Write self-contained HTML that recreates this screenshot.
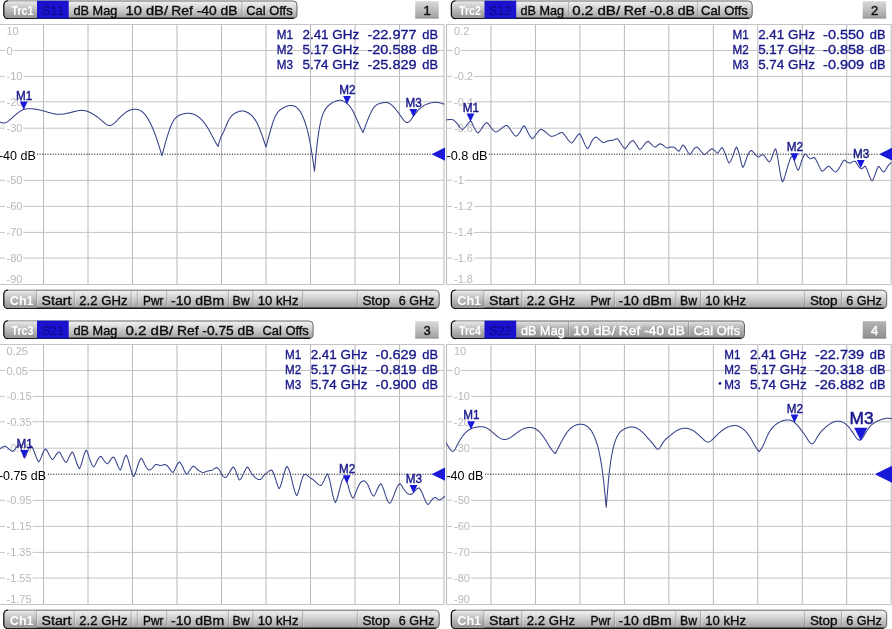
<!DOCTYPE html>
<html><head><meta charset="utf-8"><title>VNA</title>
<style>
html,body{margin:0;padding:0;background:#fff;}
body{width:892px;height:629px;overflow:hidden;font-family:"Liberation Sans", sans-serif;}
svg{display:block;will-change:transform;}
</style></head><body>
<svg width="892" height="629" viewBox="0 0 892 629" font-family='"Liberation Sans", sans-serif'>
<defs>
<linearGradient id="bar" x1="0" y1="0" x2="0" y2="1"><stop offset="0" stop-color="#f4f4f4"/><stop offset="0.45" stop-color="#d0d0d0"/><stop offset="1" stop-color="#9e9e9e"/></linearGradient>
<linearGradient id="barA" x1="0" y1="0" x2="0" y2="1"><stop offset="0" stop-color="#e6e6e6"/><stop offset="0.4" stop-color="#b4b4b4"/><stop offset="1" stop-color="#909090"/></linearGradient>
<linearGradient id="cell" x1="0" y1="0" x2="0" y2="1"><stop offset="0" stop-color="#e8e8e8"/><stop offset="0.5" stop-color="#bababa"/><stop offset="1" stop-color="#929292"/></linearGradient>
<linearGradient id="num" x1="0" y1="0" x2="0" y2="1"><stop offset="0" stop-color="#dadada"/><stop offset="1" stop-color="#a0a0a0"/></linearGradient>
<linearGradient id="numd" x1="0" y1="0" x2="0" y2="1"><stop offset="0" stop-color="#b4b4b4"/><stop offset="1" stop-color="#8e8e8e"/></linearGradient>
<clipPath id="clip1"><rect x="0" y="19" width="445.5" height="270"/></clipPath>
<clipPath id="clip2"><rect x="446" y="19" width="446" height="270"/></clipPath>
<clipPath id="clip3"><rect x="0" y="339" width="445.5" height="270"/></clipPath>
<clipPath id="clip4"><rect x="446" y="339" width="446" height="270"/></clipPath>
</defs>
<rect width="892" height="629" fill="#fff"/>
<g clip-path="url(#clip1)">
<line x1="-1" y1="24.5" x2="-1" y2="284.5" stroke="#b8b8b8" stroke-width="1"/>
<line x1="43.5" y1="24.5" x2="43.5" y2="284.5" stroke="#b8b8b8" stroke-width="1"/>
<line x1="88" y1="24.5" x2="88" y2="284.5" stroke="#b8b8b8" stroke-width="1"/>
<line x1="132.5" y1="24.5" x2="132.5" y2="284.5" stroke="#b8b8b8" stroke-width="1"/>
<line x1="177" y1="24.5" x2="177" y2="284.5" stroke="#b8b8b8" stroke-width="1"/>
<line x1="221.5" y1="24.5" x2="221.5" y2="284.5" stroke="#b8b8b8" stroke-width="1"/>
<line x1="266" y1="24.5" x2="266" y2="284.5" stroke="#b8b8b8" stroke-width="1"/>
<line x1="310.5" y1="24.5" x2="310.5" y2="284.5" stroke="#b8b8b8" stroke-width="1"/>
<line x1="355" y1="24.5" x2="355" y2="284.5" stroke="#b8b8b8" stroke-width="1"/>
<line x1="399.5" y1="24.5" x2="399.5" y2="284.5" stroke="#b8b8b8" stroke-width="1"/>
<line x1="444" y1="24.5" x2="444" y2="284.5" stroke="#b8b8b8" stroke-width="1"/>
<line x1="-1" y1="24.5" x2="444" y2="24.5" stroke="#c4c4c4" stroke-width="1"/>
<line x1="-1" y1="50.5" x2="444" y2="50.5" stroke="#c4c4c4" stroke-width="1"/>
<line x1="-1" y1="76.4" x2="444" y2="76.4" stroke="#c4c4c4" stroke-width="1"/>
<line x1="-1" y1="101.8" x2="444" y2="101.8" stroke="#c4c4c4" stroke-width="1"/>
<line x1="-1" y1="128.2" x2="444" y2="128.2" stroke="#c4c4c4" stroke-width="1"/>
<line x1="-1" y1="180.3" x2="444" y2="180.3" stroke="#c4c4c4" stroke-width="1"/>
<line x1="-1" y1="206.4" x2="444" y2="206.4" stroke="#c4c4c4" stroke-width="1"/>
<line x1="-1" y1="232.4" x2="444" y2="232.4" stroke="#c4c4c4" stroke-width="1"/>
<line x1="-1" y1="258.1" x2="444" y2="258.1" stroke="#c4c4c4" stroke-width="1"/>
<line x1="-1" y1="284.5" x2="444" y2="284.5" stroke="#c4c4c4" stroke-width="1"/>
<text x="6.5" y="34.8" font-size="11" fill="#b8b8b8">10</text>
<rect x="5" y="48.5" width="8.62" height="4" fill="#fff"/>
<text x="6.5" y="54.5" font-size="11" fill="#b8b8b8">0</text>
<rect x="5" y="74.4" width="18.4" height="4" fill="#fff"/>
<text x="6.5" y="80.4" font-size="11" fill="#b8b8b8">-10</text>
<rect x="5" y="99.8" width="18.4" height="4" fill="#fff"/>
<text x="6.5" y="105.8" font-size="11" fill="#b8b8b8">-20</text>
<rect x="5" y="126.2" width="18.4" height="4" fill="#fff"/>
<text x="6.5" y="132.2" font-size="11" fill="#b8b8b8">-30</text>
<rect x="5" y="178.3" width="18.4" height="4" fill="#fff"/>
<text x="6.5" y="184.3" font-size="11" fill="#b8b8b8">-50</text>
<rect x="5" y="204.4" width="18.4" height="4" fill="#fff"/>
<text x="6.5" y="210.4" font-size="11" fill="#b8b8b8">-60</text>
<rect x="5" y="230.4" width="18.4" height="4" fill="#fff"/>
<text x="6.5" y="236.4" font-size="11" fill="#b8b8b8">-70</text>
<rect x="5" y="256.1" width="18.4" height="4" fill="#fff"/>
<text x="6.5" y="262.1" font-size="11" fill="#b8b8b8">-80</text>
<text x="6.5" y="282.6" font-size="11" fill="#b8b8b8">-90</text>
<line x1="37" y1="154.2" x2="431.5" y2="154.2" stroke="#111" stroke-width="1" stroke-dasharray="1.1 1.5"/>
<text x="-1.1" y="159.8" font-size="13.6" fill="#000" textLength="36.9" lengthAdjust="spacingAndGlyphs">-40 dB</text>
<path d="M431.5 154.2 L445 147.6 L445 160.8 Z" fill="#1818d8"/>
<path d="M-1 121.5 L-0.5 121.74 L0 121.98 L0.5 122.2 L1 122.41 L1.5 122.59 L2 122.75 L2.5 122.87 L3 122.96 L3.5 123 L4 122.99 L4.5 122.93 L5 122.82 L5.5 122.66 L6 122.46 L6.5 122.23 L7 121.95 L7.5 121.65 L8 121.31 L8.5 120.95 L9 120.57 L9.5 120.17 L10 119.75 L10.5 119.31 L11 118.87 L11.5 118.41 L12 117.96 L12.5 117.5 L13 117.04 L13.5 116.59 L14 116.14 L14.5 115.7 L15 115.26 L15.5 114.83 L16 114.41 L16.5 113.99 L17 113.59 L17.5 113.19 L18 112.81 L18.5 112.43 L19 112.08 L19.5 111.73 L20 111.4 L20.5 111.09 L21 110.79 L21.5 110.51 L22 110.25 L22.5 110.01 L23 109.79 L23.5 109.59 L24 109.41 L24.5 109.26 L25 109.13 L25.5 109.01 L26 108.92 L26.5 108.84 L27 108.78 L27.5 108.73 L28 108.7 L28.5 108.68 L29 108.67 L29.5 108.67 L30 108.69 L30.5 108.71 L31 108.73 L31.5 108.77 L32 108.81 L32.5 108.85 L33 108.9 L33.5 108.95 L34 109.01 L34.5 109.07 L35 109.14 L35.5 109.21 L36 109.29 L36.5 109.37 L37 109.46 L37.5 109.55 L38 109.64 L38.5 109.74 L39 109.84 L39.5 109.95 L40 110.06 L40.5 110.17 L41 110.29 L41.5 110.41 L42 110.54 L42.5 110.66 L43 110.8 L43.5 110.93 L44 111.07 L44.5 111.21 L45 111.35 L45.5 111.5 L46 111.65 L46.5 111.8 L47 111.94 L47.5 112.09 L48 112.24 L48.5 112.39 L49 112.53 L49.5 112.68 L50 112.82 L50.5 112.95 L51 113.09 L51.5 113.21 L52 113.34 L52.5 113.46 L53 113.57 L53.5 113.68 L54 113.78 L54.5 113.87 L55 113.96 L55.5 114.03 L56 114.1 L56.5 114.16 L57 114.21 L57.5 114.25 L58 114.28 L58.5 114.3 L59 114.3 L59.5 114.3 L60 114.29 L60.5 114.27 L61 114.24 L61.5 114.2 L62 114.16 L62.5 114.1 L63 114.04 L63.5 113.98 L64 113.9 L64.5 113.82 L65 113.74 L65.5 113.64 L66 113.55 L66.5 113.45 L67 113.34 L67.5 113.23 L68 113.12 L68.5 113 L69 112.88 L69.5 112.76 L70 112.64 L70.5 112.51 L71 112.39 L71.5 112.26 L72 112.13 L72.5 112 L73 111.87 L73.5 111.74 L74 111.62 L74.5 111.49 L75 111.37 L75.5 111.25 L76 111.14 L76.5 111.03 L77 110.93 L77.5 110.83 L78 110.74 L78.5 110.66 L79 110.59 L79.5 110.53 L80 110.48 L80.5 110.44 L81 110.41 L81.5 110.39 L82 110.39 L82.5 110.4 L83 110.43 L83.5 110.47 L84 110.53 L84.5 110.61 L85 110.7 L85.5 110.81 L86 110.93 L86.5 111.07 L87 111.22 L87.5 111.38 L88 111.56 L88.5 111.76 L89 111.97 L89.5 112.19 L90 112.42 L90.5 112.66 L91 112.92 L91.5 113.18 L92 113.46 L92.5 113.75 L93 114.05 L93.5 114.36 L94 114.67 L94.5 115 L95 115.34 L95.5 115.68 L96 116.03 L96.5 116.4 L97 116.76 L97.5 117.14 L98 117.52 L98.5 117.91 L99 118.31 L99.5 118.71 L100 119.12 L100.5 119.54 L101 119.96 L101.5 120.38 L102 120.81 L102.5 121.25 L103 121.69 L103.5 122.13 L104 122.56 L104.5 122.98 L105 123.39 L105.5 123.77 L106 124.13 L106.5 124.46 L107 124.75 L107.5 125 L108 125.21 L108.5 125.36 L109 125.46 L109.5 125.5 L110 125.47 L110.5 125.39 L111 125.24 L111.5 125.04 L112 124.79 L112.5 124.5 L113 124.17 L113.5 123.79 L114 123.39 L114.5 122.96 L115 122.5 L115.5 122.03 L116 121.53 L116.5 121.03 L117 120.52 L117.5 120 L118 119.48 L118.5 118.97 L119 118.46 L119.5 117.95 L120 117.45 L120.5 116.95 L121 116.46 L121.5 115.98 L122 115.51 L122.5 115.05 L123 114.6 L123.5 114.16 L124 113.74 L124.5 113.33 L125 112.94 L125.5 112.56 L126 112.2 L126.5 111.87 L127 111.55 L127.5 111.25 L128 110.97 L128.5 110.72 L129 110.49 L129.5 110.28 L130 110.09 L130.5 109.92 L131 109.77 L131.5 109.64 L132 109.53 L132.5 109.44 L133 109.37 L133.5 109.31 L134 109.27 L134.5 109.25 L135 109.25 L135.5 109.26 L136 109.29 L136.5 109.34 L137 109.41 L137.5 109.51 L138 109.63 L138.5 109.77 L139 109.94 L139.5 110.13 L140 110.36 L140.5 110.62 L141 110.91 L141.5 111.24 L142 111.6 L142.5 112 L143 112.44 L143.5 112.91 L144 113.43 L144.5 113.98 L145 114.57 L145.5 115.2 L146 115.86 L146.5 116.57 L147 117.31 L147.5 118.08 L148 118.89 L148.5 119.74 L149 120.63 L149.5 121.55 L150 122.5 L150.5 123.49 L151 124.52 L151.5 125.58 L152 126.67 L152.5 127.81 L153 128.98 L153.5 130.18 L154 131.43 L154.5 132.71 L155 134.03 L155.5 135.39 L156 136.79 L156.5 138.22 L157 139.7 L157.5 141.21 L158 142.74 L158.5 144.31 L159 145.9 L159.5 147.51 L160 149.14 L160.5 150.78 L161 152.43 L161.5 154.09 L162 155.75 L162 155.75 L162.5 153.84 L163 151.94 L163.5 150.05 L164 148.17 L164.5 146.3 L165 144.47 L165.5 142.65 L166 140.88 L166.5 139.13 L167 137.43 L167.5 135.78 L168 134.17 L168.5 132.62 L169 131.12 L169.5 129.68 L170 128.3 L170.5 126.99 L171 125.75 L171.5 124.59 L172 123.5 L172.5 122.5 L173 121.58 L173.5 120.74 L174 119.98 L174.5 119.29 L175 118.66 L175.5 118.1 L176 117.59 L176.5 117.14 L177 116.73 L177.5 116.36 L178 116.03 L178.5 115.74 L179 115.47 L179.5 115.23 L180 115 L180.5 114.79 L181 114.59 L181.5 114.4 L182 114.23 L182.5 114.07 L183 113.93 L183.5 113.8 L184 113.68 L184.5 113.58 L185 113.49 L185.5 113.41 L186 113.35 L186.5 113.3 L187 113.27 L187.5 113.25 L188 113.24 L188.5 113.25 L189 113.28 L189.5 113.32 L190 113.37 L190.5 113.44 L191 113.53 L191.5 113.63 L192 113.75 L192.5 113.89 L193 114.04 L193.5 114.21 L194 114.4 L194.5 114.61 L195 114.83 L195.5 115.08 L196 115.34 L196.5 115.62 L197 115.93 L197.5 116.25 L198 116.59 L198.5 116.96 L199 117.34 L199.5 117.75 L200 118.18 L200.5 118.63 L201 119.1 L201.5 119.6 L202 120.12 L202.5 120.67 L203 121.23 L203.5 121.83 L204 122.45 L204.5 123.09 L205 123.76 L205.5 124.45 L206 125.17 L206.5 125.92 L207 126.7 L207.5 127.5 L208 128.33 L208.5 129.19 L209 130.06 L209.5 130.96 L210 131.87 L210.5 132.8 L211 133.73 L211.5 134.68 L212 135.63 L212.5 136.58 L213 137.53 L213.5 138.47 L214 139.41 L214.5 140.34 L215 141.25 L215.5 142.15 L216 143.04 L216.5 143.91 L217 144.78 L217.5 145.64 L218 146.5 L218 146.5 L218.5 144.7 L219 142.93 L219.5 141.22 L220 139.62 L220.5 138.14 L221 136.83 L221.5 135.72 L222 134.77 L222.5 133.89 L223 133 L223.5 132.02 L224 130.94 L224.5 129.8 L225 128.61 L225.5 127.39 L226 126.15 L226.5 124.93 L227 123.73 L227.5 122.58 L228 121.5 L228.5 120.5 L229 119.59 L229.5 118.75 L230 117.99 L230.5 117.29 L231 116.66 L231.5 116.08 L232 115.56 L232.5 115.09 L233 114.66 L233.5 114.27 L234 113.91 L234.5 113.58 L235 113.28 L235.5 113 L236 112.73 L236.5 112.48 L237 112.25 L237.5 112.03 L238 111.83 L238.5 111.65 L239 111.49 L239.5 111.35 L240 111.23 L240.5 111.13 L241 111.06 L241.5 111.01 L242 110.99 L242.5 110.99 L243 111.02 L243.5 111.08 L244 111.16 L244.5 111.26 L245 111.39 L245.5 111.55 L246 111.73 L246.5 111.93 L247 112.17 L247.5 112.42 L248 112.71 L248.5 113.01 L249 113.35 L249.5 113.71 L250 114.09 L250.5 114.5 L251 114.93 L251.5 115.4 L252 115.89 L252.5 116.41 L253 116.97 L253.5 117.57 L254 118.21 L254.5 118.89 L255 119.61 L255.5 120.38 L256 121.19 L256.5 122.06 L257 122.98 L257.5 123.96 L258 125 L258.5 126.1 L259 127.25 L259.5 128.45 L260 129.71 L260.5 131 L261 132.34 L261.5 133.71 L262 135.12 L262.5 136.55 L263 138 L263.5 139.47 L264 140.96 L264.5 142.46 L265 143.97 L265.5 145.48 L266 147 L266 147 L266.5 145.15 L267 143.29 L267.5 141.44 L268 139.6 L268.5 137.75 L269 135.92 L269.5 134.09 L270 132.27 L270.5 130.47 L271 128.71 L271.5 126.99 L272 125.32 L272.5 123.72 L273 122.19 L273.5 120.74 L274 119.39 L274.5 118.14 L275 117 L275.5 115.96 L276 115.01 L276.5 114.15 L277 113.37 L277.5 112.66 L278 112.02 L278.5 111.45 L279 110.92 L279.5 110.45 L280 110.02 L280.5 109.62 L281 109.26 L281.5 108.91 L282 108.59 L282.5 108.28 L283 107.98 L283.5 107.69 L284 107.42 L284.5 107.17 L285 106.93 L285.5 106.71 L286 106.5 L286.5 106.32 L287 106.15 L287.5 106 L288 105.86 L288.5 105.75 L289 105.66 L289.5 105.58 L290 105.53 L290.5 105.5 L291 105.49 L291.5 105.51 L292 105.55 L292.5 105.61 L293 105.71 L293.5 105.84 L294 106 L294.5 106.2 L295 106.44 L295.5 106.71 L296 107.03 L296.5 107.39 L297 107.79 L297.5 108.25 L298 108.75 L298.5 109.3 L299 109.91 L299.5 110.58 L300 111.3 L300.5 112.08 L301 112.93 L301.5 113.84 L302 114.82 L302.5 115.87 L303 116.99 L303.5 118.18 L304 119.45 L304.5 120.8 L305 122.23 L305.5 123.75 L306 125.35 L306.5 127.05 L307 128.85 L307.5 130.76 L308 132.78 L308.5 134.94 L309 137.23 L309.5 139.66 L310 142.25 L310.5 145 L311 147.91 L311.5 150.97 L312 154.16 L312.5 157.45 L313 160.83 L313.5 164.27 L314 167.75 L314.5 171.25 L314.5 171.25 L315 165.68 L315.5 160.2 L316 154.9 L316.5 149.88 L317 145.22 L317.5 140.97 L318 137.09 L318.5 133.56 L319 130.36 L319.5 127.47 L320 124.86 L320.5 122.5 L321 120.38 L321.5 118.47 L322 116.77 L322.5 115.25 L323 113.89 L323.5 112.69 L324 111.63 L324.5 110.69 L325 109.85 L325.5 109.1 L326 108.42 L326.5 107.8 L327 107.21 L327.5 106.66 L328 106.14 L328.5 105.65 L329 105.19 L329.5 104.75 L330 104.34 L330.5 103.96 L331 103.6 L331.5 103.26 L332 102.95 L332.5 102.65 L333 102.37 L333.5 102.12 L334 101.88 L334.5 101.65 L335 101.44 L335.5 101.25 L336 101.07 L336.5 100.9 L337 100.75 L337.5 100.62 L338 100.51 L338.5 100.42 L339 100.35 L339.5 100.31 L340 100.3 L340.5 100.32 L341 100.37 L341.5 100.45 L342 100.56 L342.5 100.71 L343 100.9 L343.5 101.11 L344 101.36 L344.5 101.64 L345 101.95 L345.5 102.29 L346 102.65 L346.5 103.04 L347 103.46 L347.5 103.91 L348 104.38 L348.5 104.88 L349 105.42 L349.5 105.99 L350 106.61 L350.5 107.26 L351 107.96 L351.5 108.71 L352 109.5 L352.5 110.35 L353 111.25 L353.5 112.21 L354 113.22 L354.5 114.27 L355 115.35 L355.5 116.47 L356 117.6 L356.5 118.75 L357 119.91 L357.5 121.06 L358 122.21 L358.5 123.34 L359 124.45 L359.5 125.54 L360 126.59 L360.5 127.61 L361 128.62 L361.5 129.6 L362 130.58 L362.5 131.54 L363 132.5 L363 132.5 L363.5 131.15 L364 129.8 L364.5 128.45 L365.01 127.11 L365.51 125.77 L366.01 124.44 L366.51 123.13 L367.01 121.82 L367.51 120.52 L368.02 119.25 L368.52 118 L369.02 116.78 L369.52 115.6 L370.02 114.45 L370.52 113.35 L371.02 112.3 L371.53 111.31 L372.03 110.37 L372.53 109.5 L373.03 108.7 L373.53 107.98 L374.03 107.32 L374.54 106.74 L375.04 106.21 L375.54 105.74 L376.04 105.33 L376.54 104.96 L377.04 104.64 L377.54 104.36 L378.05 104.12 L378.55 103.9 L379.05 103.72 L379.55 103.55 L380.05 103.41 L380.55 103.28 L381.06 103.16 L381.56 103.04 L382.06 102.93 L382.56 102.82 L383.06 102.71 L383.56 102.62 L384.06 102.54 L384.57 102.47 L385.07 102.43 L385.57 102.42 L386.07 102.43 L386.57 102.47 L387.07 102.56 L387.58 102.68 L388.08 102.84 L388.58 103.04 L389.08 103.27 L389.58 103.53 L390.08 103.83 L390.58 104.16 L391.09 104.53 L391.59 104.92 L392.09 105.35 L392.59 105.8 L393.09 106.28 L393.59 106.79 L394.1 107.33 L394.6 107.89 L395.1 108.48 L395.6 109.08 L396.1 109.71 L396.6 110.35 L397.1 111.01 L397.61 111.69 L398.11 112.37 L398.61 113.06 L399.11 113.77 L399.61 114.47 L400.11 115.18 L400.62 115.9 L401.12 116.61 L401.62 117.32 L402.12 118.02 L402.62 118.71 L403.12 119.37 L403.62 120.01 L404.13 120.59 L404.63 121.12 L405.13 121.58 L405.63 121.96 L406.13 122.25 L406.63 122.44 L407.14 122.52 L407.64 122.48 L408.14 122.31 L408.64 122.02 L409.14 121.64 L409.64 121.17 L410.15 120.62 L410.65 120.02 L411.15 119.36 L411.65 118.68 L412.15 117.96 L412.65 117.25 L413.15 116.53 L413.66 115.83 L414.16 115.14 L414.66 114.47 L415.16 113.82 L415.66 113.18 L416.16 112.56 L416.67 111.96 L417.17 111.37 L417.67 110.8 L418.17 110.26 L418.67 109.73 L419.17 109.23 L419.67 108.75 L420.18 108.29 L420.68 107.85 L421.18 107.43 L421.68 107.04 L422.18 106.67 L422.68 106.32 L423.19 105.99 L423.69 105.68 L424.19 105.39 L424.69 105.12 L425.19 104.86 L425.69 104.62 L426.19 104.39 L426.7 104.19 L427.2 103.99 L427.7 103.81 L428.2 103.64 L428.7 103.48 L429.2 103.33 L429.71 103.2 L430.21 103.07 L430.71 102.95 L431.21 102.84 L431.71 102.74 L432.21 102.65 L432.71 102.57 L433.22 102.5 L433.72 102.45 L434.22 102.4 L434.72 102.37 L435.22 102.35 L435.72 102.34 L436.23 102.35 L436.73 102.37 L437.23 102.41 L437.73 102.46 L438.23 102.53 L438.73 102.62 L439.23 102.72 L439.74 102.84 L440.24 102.96 L440.74 103.1 L441.24 103.25 L441.74 103.4 L442.24 103.56 L442.75 103.73 L443.25 103.9 L443.75 104.08 L444.25 104.25" fill="none" stroke="#34408a" stroke-width="1.05" stroke-linejoin="round"/>
<path d="M19.85 101.5 L27.65 101.5 L23.75 109.8 Z" fill="#1818d8"/>
<text x="15.95" y="99.5" font-size="13.5" fill="#18188a" textLength="16.3" lengthAdjust="spacingAndGlyphs" stroke="#18188a" stroke-width="0.45">M1</text>
<path d="M343.1 96 L350.9 96 L347 104.3 Z" fill="#1818d8"/>
<text x="339.2" y="94" font-size="13.5" fill="#18188a" textLength="16.3" lengthAdjust="spacingAndGlyphs" stroke="#18188a" stroke-width="0.45">M2</text>
<path d="M409.5 109 L417.3 109 L413.4 117.3 Z" fill="#1818d8"/>
<text x="405.6" y="107" font-size="13.5" fill="#18188a" textLength="16.3" lengthAdjust="spacingAndGlyphs" stroke="#18188a" stroke-width="0.45">M3</text>
<text x="422.3" y="39.1" font-size="13" fill="#18188a" textLength="15.7" lengthAdjust="spacingAndGlyphs" stroke="#18188a" stroke-width="0.35">dB</text>
<text x="367.4" y="39.1" font-size="13" fill="#18188a" textLength="49.2" lengthAdjust="spacingAndGlyphs" stroke="#18188a" stroke-width="0.35">-22.977</text>
<text x="302.45" y="39.1" font-size="13" fill="#18188a" textLength="56.75" lengthAdjust="spacingAndGlyphs" stroke="#18188a" stroke-width="0.35">2.41 GHz</text>
<text x="276.85" y="39.1" font-size="13" fill="#18188a" textLength="16.2" lengthAdjust="spacingAndGlyphs" stroke="#18188a" stroke-width="0.35">M1</text>
<text x="422.3" y="53.8" font-size="13" fill="#18188a" textLength="15.7" lengthAdjust="spacingAndGlyphs" stroke="#18188a" stroke-width="0.35">dB</text>
<text x="367.4" y="53.8" font-size="13" fill="#18188a" textLength="49.2" lengthAdjust="spacingAndGlyphs" stroke="#18188a" stroke-width="0.35">-20.588</text>
<text x="302.45" y="53.8" font-size="13" fill="#18188a" textLength="56.75" lengthAdjust="spacingAndGlyphs" stroke="#18188a" stroke-width="0.35">5.17 GHz</text>
<text x="276.85" y="53.8" font-size="13" fill="#18188a" textLength="16.2" lengthAdjust="spacingAndGlyphs" stroke="#18188a" stroke-width="0.35">M2</text>
<text x="422.3" y="68.6" font-size="13" fill="#18188a" textLength="15.7" lengthAdjust="spacingAndGlyphs" stroke="#18188a" stroke-width="0.35">dB</text>
<text x="367.4" y="68.6" font-size="13" fill="#18188a" textLength="49.2" lengthAdjust="spacingAndGlyphs" stroke="#18188a" stroke-width="0.35">-25.829</text>
<text x="302.45" y="68.6" font-size="13" fill="#18188a" textLength="56.75" lengthAdjust="spacingAndGlyphs" stroke="#18188a" stroke-width="0.35">5.74 GHz</text>
<text x="276.85" y="68.6" font-size="13" fill="#18188a" textLength="16.2" lengthAdjust="spacingAndGlyphs" stroke="#18188a" stroke-width="0.35">M3</text>
</g>
<rect x="4" y="1" width="293" height="17.5" rx="4" ry="4" fill="url(#bar)" stroke="#666" stroke-width="1"/>
<path d="M7 18.3 H294" fill="none" stroke="#1a1a1a" stroke-width="1.4"/>
<path d="M8 1 A4 4 0 0 0 4 5 V14.5 A4 4 0 0 0 8 18.5" fill="none" stroke="#111" stroke-width="1.6"/>
<path d="M8 1.5 H37 V18 H8 A3.5 3.5 0 0 1 4.5 14.5 V5 A3.5 3.5 0 0 1 8 1.5 Z" fill="url(#cell)"/>
<text x="11.5" y="14.6" font-size="12" fill="#fff" textLength="22" lengthAdjust="spacingAndGlyphs" font-weight="bold">Trc1</text>
<rect x="37" y="0.7" width="31.7" height="17.8" fill="#1a12cc"/>
<text x="41.5" y="14.6" font-size="12.5" fill="#0c0a86" textLength="22.5" lengthAdjust="spacingAndGlyphs">S11</text>
<text x="73.5" y="14.6" font-size="13" fill="#0a0a0a" textLength="43.8" lengthAdjust="spacingAndGlyphs" stroke="#0a0a0a" stroke-width="0.35">dB Mag</text>
<text x="125.5" y="14.6" font-size="13" fill="#0a0a0a" textLength="42.5" lengthAdjust="spacingAndGlyphs" stroke="#0a0a0a" stroke-width="0.35">10 dB/</text>
<text x="171.3" y="14.6" font-size="13" fill="#0a0a0a" textLength="66.3" lengthAdjust="spacingAndGlyphs" stroke="#0a0a0a" stroke-width="0.35">Ref -40 dB</text>
<text x="246.2" y="14.6" font-size="13" fill="#0a0a0a" textLength="46.4" lengthAdjust="spacingAndGlyphs" stroke="#0a0a0a" stroke-width="0.35">Cal Offs</text>
<line x1="242" y1="2" x2="242" y2="17.3" stroke="#777" stroke-opacity="0.5" stroke-width="1"/>
<line x1="243" y1="2" x2="243" y2="17.3" stroke="#fff" stroke-opacity="0.3" stroke-width="1"/>
<rect x="415.2" y="1.2" width="23.5" height="17.4" fill="url(#num)"/>
<rect x="415.2" y="17.6" width="23.5" height="1" fill="#000" fill-opacity="0.12"/>
<text x="427.1" y="14.9" font-size="13" fill="#111" text-anchor="middle" stroke="#111" stroke-width="0.4">1</text>
<rect x="4" y="290.2" width="435.2" height="18.2" rx="4" ry="4" fill="url(#bar)" stroke="#666" stroke-width="1"/>
<path d="M7 308.2 H436.2" fill="none" stroke="#1a1a1a" stroke-width="1.4"/>
<path d="M8 290.2 A4 4 0 0 0 4 294.2 V304.4 A4 4 0 0 0 8 308.4" fill="none" stroke="#111" stroke-width="1.6"/>
<path d="M8 290.7 H36.4 V307.9 H8 A3.5 3.5 0 0 1 4.5 304.4 V294.2 A3.5 3.5 0 0 1 8 290.7 Z" fill="url(#cell)"/>
<text x="9.8" y="304.9" font-size="12" fill="#fff" textLength="23.8" lengthAdjust="spacingAndGlyphs" font-weight="bold">Ch1</text>
<text x="41.5" y="304.9" font-size="13" fill="#0a0a0a" textLength="30" lengthAdjust="spacingAndGlyphs" stroke="#0a0a0a" stroke-width="0.35">Start</text>
<text x="79.3" y="304.9" font-size="13" fill="#0a0a0a" textLength="48.2" lengthAdjust="spacingAndGlyphs" stroke="#0a0a0a" stroke-width="0.35">2.2 GHz</text>
<text x="143" y="304.9" font-size="13" fill="#0a0a0a" textLength="20.4" lengthAdjust="spacingAndGlyphs" stroke="#0a0a0a" stroke-width="0.35">Pwr</text>
<text x="171" y="304.9" font-size="13" fill="#0a0a0a" textLength="53.2" lengthAdjust="spacingAndGlyphs" stroke="#0a0a0a" stroke-width="0.35">-10 dBm</text>
<text x="232.5" y="304.9" font-size="13" fill="#0a0a0a" textLength="17" lengthAdjust="spacingAndGlyphs" stroke="#0a0a0a" stroke-width="0.35">Bw</text>
<text x="257.8" y="304.9" font-size="13" fill="#0a0a0a" textLength="40.7" lengthAdjust="spacingAndGlyphs" stroke="#0a0a0a" stroke-width="0.35">10 kHz</text>
<text x="362.4" y="304.9" font-size="13" fill="#0a0a0a" textLength="27.6" lengthAdjust="spacingAndGlyphs" stroke="#0a0a0a" stroke-width="0.35">Stop</text>
<text x="398.8" y="304.9" font-size="13" fill="#0a0a0a" textLength="35.6" lengthAdjust="spacingAndGlyphs" stroke="#0a0a0a" stroke-width="0.35">6 GHz</text>
<line x1="36.4" y1="291.2" x2="36.4" y2="307.2" stroke="#777" stroke-opacity="0.5" stroke-width="1"/>
<line x1="37.4" y1="291.2" x2="37.4" y2="307.2" stroke="#fff" stroke-opacity="0.3" stroke-width="1"/>
<line x1="74.3" y1="291.2" x2="74.3" y2="307.2" stroke="#777" stroke-opacity="0.5" stroke-width="1"/>
<line x1="75.3" y1="291.2" x2="75.3" y2="307.2" stroke="#fff" stroke-opacity="0.3" stroke-width="1"/>
<line x1="131.2" y1="291.2" x2="131.2" y2="307.2" stroke="#777" stroke-opacity="0.5" stroke-width="1"/>
<line x1="132.2" y1="291.2" x2="132.2" y2="307.2" stroke="#fff" stroke-opacity="0.3" stroke-width="1"/>
<line x1="137.3" y1="291.2" x2="137.3" y2="307.2" stroke="#777" stroke-opacity="0.5" stroke-width="1"/>
<line x1="138.3" y1="291.2" x2="138.3" y2="307.2" stroke="#fff" stroke-opacity="0.3" stroke-width="1"/>
<line x1="166.8" y1="291.2" x2="166.8" y2="307.2" stroke="#777" stroke-opacity="0.5" stroke-width="1"/>
<line x1="167.8" y1="291.2" x2="167.8" y2="307.2" stroke="#fff" stroke-opacity="0.3" stroke-width="1"/>
<line x1="228.4" y1="291.2" x2="228.4" y2="307.2" stroke="#777" stroke-opacity="0.5" stroke-width="1"/>
<line x1="229.4" y1="291.2" x2="229.4" y2="307.2" stroke="#fff" stroke-opacity="0.3" stroke-width="1"/>
<line x1="253" y1="291.2" x2="253" y2="307.2" stroke="#777" stroke-opacity="0.5" stroke-width="1"/>
<line x1="254" y1="291.2" x2="254" y2="307.2" stroke="#fff" stroke-opacity="0.3" stroke-width="1"/>
<line x1="302.7" y1="291.2" x2="302.7" y2="307.2" stroke="#777" stroke-opacity="0.5" stroke-width="1"/>
<line x1="303.7" y1="291.2" x2="303.7" y2="307.2" stroke="#fff" stroke-opacity="0.3" stroke-width="1"/>
<line x1="357.3" y1="291.2" x2="357.3" y2="307.2" stroke="#777" stroke-opacity="0.5" stroke-width="1"/>
<line x1="358.3" y1="291.2" x2="358.3" y2="307.2" stroke="#fff" stroke-opacity="0.3" stroke-width="1"/>
<g clip-path="url(#clip2)">
<line x1="446.5" y1="24.5" x2="446.5" y2="284.5" stroke="#b8b8b8" stroke-width="1"/>
<line x1="490.97" y1="24.5" x2="490.97" y2="284.5" stroke="#b8b8b8" stroke-width="1"/>
<line x1="535.44" y1="24.5" x2="535.44" y2="284.5" stroke="#b8b8b8" stroke-width="1"/>
<line x1="579.91" y1="24.5" x2="579.91" y2="284.5" stroke="#b8b8b8" stroke-width="1"/>
<line x1="624.38" y1="24.5" x2="624.38" y2="284.5" stroke="#b8b8b8" stroke-width="1"/>
<line x1="668.85" y1="24.5" x2="668.85" y2="284.5" stroke="#b8b8b8" stroke-width="1"/>
<line x1="713.32" y1="24.5" x2="713.32" y2="284.5" stroke="#b8b8b8" stroke-width="1"/>
<line x1="757.79" y1="24.5" x2="757.79" y2="284.5" stroke="#b8b8b8" stroke-width="1"/>
<line x1="802.26" y1="24.5" x2="802.26" y2="284.5" stroke="#b8b8b8" stroke-width="1"/>
<line x1="846.73" y1="24.5" x2="846.73" y2="284.5" stroke="#b8b8b8" stroke-width="1"/>
<line x1="891.2" y1="24.5" x2="891.2" y2="284.5" stroke="#b8b8b8" stroke-width="1"/>
<line x1="446.5" y1="24.5" x2="891.2" y2="24.5" stroke="#c4c4c4" stroke-width="1"/>
<line x1="446.5" y1="50.5" x2="891.2" y2="50.5" stroke="#c4c4c4" stroke-width="1"/>
<line x1="446.5" y1="76.4" x2="891.2" y2="76.4" stroke="#c4c4c4" stroke-width="1"/>
<line x1="446.5" y1="101.8" x2="891.2" y2="101.8" stroke="#c4c4c4" stroke-width="1"/>
<line x1="446.5" y1="128.2" x2="891.2" y2="128.2" stroke="#c4c4c4" stroke-width="1"/>
<line x1="446.5" y1="180.3" x2="891.2" y2="180.3" stroke="#c4c4c4" stroke-width="1"/>
<line x1="446.5" y1="206.4" x2="891.2" y2="206.4" stroke="#c4c4c4" stroke-width="1"/>
<line x1="446.5" y1="232.4" x2="891.2" y2="232.4" stroke="#c4c4c4" stroke-width="1"/>
<line x1="446.5" y1="258.1" x2="891.2" y2="258.1" stroke="#c4c4c4" stroke-width="1"/>
<line x1="446.5" y1="284.5" x2="891.2" y2="284.5" stroke="#c4c4c4" stroke-width="1"/>
<text x="454" y="34.8" font-size="11" fill="#b8b8b8">0.2</text>
<rect x="452.5" y="48.5" width="8.62" height="4" fill="#fff"/>
<text x="454" y="54.5" font-size="11" fill="#b8b8b8">0</text>
<rect x="452.5" y="74.4" width="21.46" height="4" fill="#fff"/>
<text x="454" y="80.4" font-size="11" fill="#b8b8b8">-0.2</text>
<rect x="452.5" y="99.8" width="21.46" height="4" fill="#fff"/>
<text x="454" y="105.8" font-size="11" fill="#b8b8b8">-0.4</text>
<rect x="452.5" y="126.2" width="21.46" height="4" fill="#fff"/>
<text x="454" y="132.2" font-size="11" fill="#b8b8b8">-0.6</text>
<rect x="452.5" y="178.3" width="12.28" height="4" fill="#fff"/>
<text x="454" y="184.3" font-size="11" fill="#b8b8b8">-1</text>
<rect x="452.5" y="204.4" width="21.46" height="4" fill="#fff"/>
<text x="454" y="210.4" font-size="11" fill="#b8b8b8">-1.2</text>
<rect x="452.5" y="230.4" width="21.46" height="4" fill="#fff"/>
<text x="454" y="236.4" font-size="11" fill="#b8b8b8">-1.4</text>
<rect x="452.5" y="256.1" width="21.46" height="4" fill="#fff"/>
<text x="454" y="262.1" font-size="11" fill="#b8b8b8">-1.6</text>
<text x="454" y="282.6" font-size="11" fill="#b8b8b8">-1.8</text>
<line x1="489" y1="154.2" x2="879" y2="154.2" stroke="#111" stroke-width="1" stroke-dasharray="1.1 1.5"/>
<text x="446.4" y="159.8" font-size="13.6" fill="#000" textLength="41.1" lengthAdjust="spacingAndGlyphs">-0.8 dB</text>
<path d="M879 154.2 L892.5 147.6 L892.5 160.8 Z" fill="#1818d8"/>
<path d="M446 120 L446.5 119.92 L447 119.84 L447.5 119.77 L448 119.7 L448.5 119.64 L449 119.6 L449.5 119.56 L450 119.54 L450.5 119.54 L451 119.55 L451.5 119.59 L452 119.65 L452.5 119.74 L453 119.86 L453.5 120 L454 120.4 L454.5 120.83 L455 121.3 L455.5 121.79 L456 122.32 L456.5 122.87 L457 123.45 L457.5 124.07 L458 124.74 L458.5 125.41 L459 126.08 L459.5 126.73 L460 127.36 L460.5 127.94 L461 128.47 L461.5 128.94 L462 129.34 L462.5 129.41 L463 129.17 L463.5 128.85 L464 128.45 L464.5 127.98 L465 127.45 L465.5 126.87 L466 126.25 L466.5 125.56 L467 124.86 L467.5 124.16 L468 123.49 L468.5 122.86 L469 122.31 L469.5 121.85 L470 121.51 L470.5 121.3 L471 121.25 L471.5 122.06 L472 123.01 L472.5 124.07 L473 125.2 L473.5 126.35 L474 127.5 L474.5 128.45 L475 129.34 L475.5 130.17 L476 130.93 L476.5 131.6 L477 132.17 L477.5 132.65 L478 133 L478.5 132.63 L479 132.16 L479.5 131.59 L480 130.94 L480.5 130.23 L481 129.48 L481.5 128.69 L482 127.9 L482.5 127.13 L483 126.39 L483.5 125.68 L484 125.01 L484.5 124.39 L485 123.83 L485.5 123.34 L486 122.93 L486.5 122.62 L487 122.67 L487.5 123.07 L488 123.57 L488.5 124.13 L489 124.75 L489.5 125.42 L490 126.1 L490.5 126.8 L491 127.5 L491.5 128.14 L492 128.75 L492.5 129.34 L493 129.89 L493.5 130.41 L494 130.88 L494.5 131.31 L495 131.68 L495.5 132 L496 131.9 L496.5 131.75 L497 131.55 L497.5 131.3 L498 131.01 L498.5 130.69 L499 130.34 L499.5 129.97 L500 129.57 L500.5 129.17 L501 128.75 L501.5 128.35 L502 127.94 L502.5 127.55 L503 127.18 L503.5 126.82 L504 126.49 L504.5 126.2 L505 125.95 L505.5 125.75 L506 125.6 L506.5 125.51 L507 125.48 L507.5 125.74 L508 126.29 L508.5 126.89 L509 127.54 L509.5 128.24 L510 128.97 L510.5 129.72 L511 130.48 L511.5 131.25 L512 131.96 L512.5 132.65 L513 133.31 L513.5 133.94 L514 134.53 L514.5 135.06 L515 135.53 L515.5 135.93 L516 136.25 L516.5 136 L517 135.67 L517.5 135.26 L518 134.77 L518.5 134.2 L519 133.57 L519.5 132.87 L520 132.05 L520.5 131.11 L521 130.17 L521.5 129.23 L522 128.34 L522.5 127.51 L523 126.79 L523.5 126.19 L524 125.75 L524.5 126.22 L525 126.85 L525.5 127.61 L526 128.48 L526.5 129.43 L527 130.43 L527.5 131.46 L528 132.5 L528.5 133.47 L529 134.4 L529.5 135.29 L530 136.11 L530.5 136.86 L531 137.53 L531.5 138.1 L532 138.56 L532.5 138.61 L533 138.23 L533.5 137.76 L534 137.19 L534.5 136.57 L535 135.89 L535.5 135.19 L536 134.47 L536.5 133.75 L537 133.09 L537.5 132.47 L538 131.87 L538.5 131.31 L539 130.79 L539.5 130.32 L540 129.91 L540.5 129.55 L541 129.25 L541.5 129.39 L542 129.59 L542.5 129.84 L543 130.14 L543.5 130.48 L544 130.85 L544.5 131.24 L545 131.65 L545.5 132.08 L546 132.5 L546.5 132.94 L547 133.38 L547.5 133.8 L548 134.22 L548.5 134.61 L549 134.99 L549.5 135.35 L550 135.68 L550.5 135.98 L551 136.25 L551.5 136.26 L552 136.23 L552.5 136.18 L553 136.09 L553.5 135.98 L554 135.85 L554.5 135.69 L555 135.52 L555.5 135.32 L556 135.1 L556.5 134.87 L557 134.63 L557.5 134.36 L558 134.07 L558.5 133.78 L559 133.5 L559.5 133.24 L560 133 L560.5 132.8 L561 132.65 L561.5 132.54 L562 132.5 L562.5 132.71 L563 133.17 L563.5 133.69 L564 134.27 L564.5 134.89 L565 135.55 L565.5 136.24 L566 136.94 L566.5 137.66 L567 138.39 L567.5 139.07 L568 139.71 L568.5 140.33 L569 140.91 L569.5 141.44 L570 141.92 L570.5 142.33 L571 142.67 L571.5 142.91 L572 142.81 L572.5 142.35 L573 141.81 L573.5 141.2 L574 140.53 L574.5 139.81 L575 139.06 L575.5 138.28 L576 137.5 L576.5 136.79 L577 136.11 L577.5 135.47 L578 134.9 L578.5 134.42 L579 134.05 L579.5 133.81 L580 134.06 L580.5 134.8 L581 135.68 L581.5 136.66 L582 137.73 L582.5 138.86 L583 140.04 L583.5 141.25 L584 142.41 L584.5 143.54 L585 144.63 L585.5 145.65 L586 146.58 L586.5 147.39 L587 148.06 L587.5 148.57 L588 148.48 L588.5 147.79 L589 146.96 L589.5 146.02 L590 144.99 L590.5 143.91 L591 142.83 L591.5 141.76 L592 140.85 L592.5 140.11 L593 139.45 L593.5 138.85 L594 138.33 L594.5 137.89 L595 137.52 L595.5 137.22 L596 137 L596.5 137.26 L597 137.58 L597.5 137.95 L598 138.37 L598.5 138.82 L599 139.29 L599.5 139.76 L600 140.23 L600.5 140.69 L601 141.12 L601.5 141.53 L602 141.9 L602.5 142.22 L603 142.5 L603.5 142.47 L604 142.4 L604.5 142.27 L605 142.12 L605.5 141.94 L606 141.74 L606.5 141.53 L607 141.31 L607.5 141.11 L608 140.92 L608.5 140.75 L609 140.65 L609.5 140.57 L610 140.51 L610.5 140.47 L611 140.42 L611.5 140.37 L612 140.31 L612.5 140.24 L613 140.13 L613.5 140 L614 139.79 L614.5 139.56 L615 139.33 L615.5 139.11 L616 138.93 L616.5 138.8 L617 138.75 L617.5 138.97 L618 139.47 L618.5 140.05 L619 140.7 L619.5 141.41 L620 142.16 L620.5 142.95 L621 143.75 L621.5 144.54 L622 145.32 L622.5 146.07 L623 146.78 L623.5 147.41 L624 147.97 L624.5 148.42 L625 148.75 L625.5 148.39 L626 147.91 L626.5 147.33 L627 146.68 L627.5 145.97 L628 145.24 L628.5 144.49 L629 143.75 L629.5 143.14 L630 142.57 L630.5 142.05 L631 141.58 L631.5 141.19 L632 140.87 L632.5 140.64 L633 140.5 L633.5 140.93 L634 141.46 L634.5 142.06 L635 142.73 L635.5 143.45 L636 144.21 L636.5 145 L637 145.82 L637.5 146.63 L638 147.41 L638.5 148.12 L639 148.76 L639.5 149.28 L640 149.41 L640.5 149.12 L641 148.73 L641.5 148.23 L642 147.66 L642.5 147.04 L643 146.37 L643.5 145.69 L644 145 L644.5 144.36 L645 143.74 L645.5 143.17 L646 142.65 L646.5 142.18 L647 141.79 L647.5 141.47 L648 141.25 L648.5 141.54 L649 141.92 L649.5 142.37 L650 142.87 L650.5 143.4 L651 143.95 L651.5 144.5 L652 144.96 L652.5 145.4 L653 145.81 L653.5 146.17 L654 146.48 L654.5 146.72 L655 146.9 L655.5 147 L656 146.7 L656.5 146.34 L657 145.93 L657.5 145.5 L658 145.06 L658.5 144.63 L659 144.23 L659.5 143.89 L660 143.77 L660.5 143.86 L661 144.01 L661.5 144.23 L662 144.5 L662.5 144.81 L663 145.14 L663.5 145.5 L664 145.91 L664.5 146.32 L665 146.71 L665.5 147.08 L666 147.41 L666.5 147.69 L667 147.91 L667.5 147.96 L668 147.83 L668.5 147.67 L669 147.5 L669.5 147.38 L670 147.27 L670.5 147.18 L671 147.11 L671.5 147.05 L672 147.02 L672.5 147 L673 147.08 L673.5 147.25 L674 147.46 L674.5 147.71 L675 148 L675.5 148.34 L676 148.75 L676.5 149.28 L677 149.84 L677.5 150.36 L678 150.8 L678.5 151.12 L679 151.25 L679.5 150.61 L680 149.8 L680.5 148.87 L681 147.9 L681.5 146.95 L682 146.06 L682.5 145.31 L683 145.06 L683.5 145.34 L684 145.8 L684.5 146.4 L685 147.11 L685.5 147.91 L686 148.75 L686.5 149.7 L687 150.64 L687.5 151.54 L688 152.39 L688.5 153.15 L689 153.8 L689.5 154.31 L690 154.33 L690.5 153.87 L691 153.28 L691.5 152.59 L692 151.84 L692.5 151.05 L693 150.26 L693.5 149.5 L694 148.93 L694.5 148.43 L695 147.99 L695.5 147.63 L696 147.34 L696.5 147.13 L697 147 L697.5 147.35 L698 147.78 L698.5 148.27 L699 148.81 L699.5 149.39 L700 150 L700.5 150.62 L701 151.25 L701.5 151.84 L702 152.41 L702.5 152.94 L703 153.43 L703.5 153.87 L704 154.22 L704.5 154.5 L705 154.29 L705.5 154 L706 153.64 L706.5 153.22 L707 152.76 L707.5 152.26 L708 151.76 L708.5 151.25 L709 150.77 L709.5 150.32 L710 149.9 L710.5 149.52 L711 149.2 L711.5 148.94 L712 148.75 L712.5 148.98 L713 149.28 L713.5 149.64 L714 150.06 L714.5 150.51 L715 151 L715.5 151.5 L716 151.98 L716.5 152.41 L717 152.75 L717.5 152.96 L718 152.77 L718.5 152.19 L719 151.49 L719.5 150.72 L720 149.92 L720.5 149.16 L721 148.46 L721.5 147.89 L722 147.5 L722.5 148.04 L723 148.77 L723.5 149.68 L724 150.72 L724.5 151.87 L725 153.11 L725.5 154.46 L726 155.9 L726.5 157.33 L727 158.71 L727.5 160 L728 161.17 L728.5 162.18 L729 163 L729.5 162.64 L730 162.06 L730.5 161.31 L731 160.39 L731.5 159.33 L732 158.16 L732.5 156.91 L733 155.51 L733.5 154 L734 152.52 L734.5 151.09 L735 149.78 L735.5 148.63 L736 147.69 L736.5 147 L737 147.76 L737.5 148.78 L738 150.05 L738.5 151.53 L739 153.19 L739.5 155 L740 157.19 L740.5 159.41 L741 161.57 L741.5 163.6 L742 165.41 L742.5 166.9 L743 167.3 L743.5 166.62 L744 165.61 L744.5 164.37 L745 162.96 L745.5 161.48 L746 160 L746.5 158.55 L747 157.18 L747.5 155.89 L748 154.68 L748.5 153.55 L749 152.5 L749.5 151.91 L750 151.41 L750.5 151.01 L751 150.7 L751.5 150.5 L752 150.83 L752.5 151.26 L753 151.76 L753.5 152.33 L754 152.93 L754.5 153.56 L755 154.19 L755.5 154.77 L756 155.29 L756.5 155.76 L757 156.18 L757.5 156.54 L758 156.81 L758.5 157 L759 156.79 L759.5 156.5 L760 156.15 L760.5 155.79 L761 155.42 L761.5 155.08 L762 154.79 L762.5 154.57 L763 154.65 L763.5 155.03 L764 155.5 L764.5 156.04 L765 156.66 L765.5 157.32 L766 158.02 L766.5 158.75 L767 159.47 L767.5 160.16 L768 160.8 L768.5 161.34 L769 161.75 L769.5 162 L770 161.33 L770.5 160.48 L771 159.48 L771.5 158.33 L772 157.07 L772.5 155.71 L773 154.28 L773.5 152.84 L774 151.48 L774.5 150.3 L775 149.39 L775.5 148.85 L776 149.57 L776.5 151.56 L777 153.94 L777.5 156.61 L778 159.5 L778.5 162.5 L779 165.58 L779.5 168.64 L780 171.59 L780.5 174.39 L781 176.96 L781.5 179.25 L782 181.18 L782.5 181.84 L783 181.21 L783.5 180.24 L784 178.98 L784.5 177.52 L785 175.9 L785.5 174.21 L786 172.5 L786.5 170.67 L787 168.9 L787.5 167.19 L788 165.52 L788.5 163.92 L789 162.37 L789.5 160.88 L790 159.44 L790.5 158.32 L791 157.54 L791.5 156.9 L792 156.45 L792.5 156.24 L793 156.78 L793.5 158.06 L794 159.55 L794.5 161.18 L795 162.89 L795.5 164.52 L796 166 L796.5 167.36 L797 168.57 L797.5 169.55 L798 170.26 L798.5 170.08 L799 169.01 L799.5 167.69 L800 166.19 L800.5 164.57 L801 162.9 L801.5 161.25 L802 159.86 L802.5 158.57 L803 157.38 L803.5 156.32 L804 155.39 L804.5 154.61 L805 153.99 L805.5 153.91 L806 154.34 L806.5 154.89 L807 155.52 L807.5 156.19 L808 156.87 L808.5 157.5 L809 157.91 L809.5 158.25 L810 158.5 L810.5 158.67 L811 158.75 L811.5 158.56 L812 158.32 L812.5 158.07 L813 157.82 L813.5 157.62 L814 157.51 L814.5 157.5 L815 158.13 L815.5 158.89 L816 159.75 L816.5 160.7 L817 161.72 L817.5 162.79 L818 163.89 L818.5 165 L819 166.08 L819.5 167.13 L820 168.13 L820.5 169.07 L821 169.91 L821.5 170.65 L822 171.25 L822.5 171.13 L823 170.87 L823.5 170.52 L824 170.08 L824.5 169.59 L825 169.06 L825.5 168.53 L826 168 L826.5 167.56 L827 167.17 L827.5 166.83 L828 166.56 L828.5 166.36 L829 166.25 L829.5 166.59 L830 167.01 L830.5 167.49 L831 168.02 L831.5 168.58 L832 169.15 L832.5 169.72 L833 170.23 L833.5 170.67 L834 171.06 L834.5 171.4 L835 171.68 L835.5 171.88 L836 172 L836.5 171.59 L837 171.08 L837.5 170.51 L838 169.85 L838.5 169.14 L839 168.37 L839.5 167.55 L840 166.69 L840.5 165.77 L841 164.79 L841.5 163.82 L842 162.89 L842.5 162.01 L843 161.22 L843.5 160.54 L844 160 L844.5 160.13 L845 160.39 L845.5 160.74 L846 161.15 L846.5 161.58 L847 162 L847.5 162.3 L848 162.54 L848.5 162.74 L849 162.88 L849.5 162.97 L850 163.01 L850.5 162.91 L851 162.68 L851.5 162.42 L852 162.15 L852.5 161.88 L853 161.63 L853.5 161.42 L854 161.27 L854.5 161.19 L855 161.2 L855.5 161.54 L856 162.19 L856.5 162.92 L857 163.72 L857.5 164.55 L858 165.39 L858.5 166.21 L859 167 L859.5 167.51 L860 167.96 L860.5 168.31 L861 168.57 L861.5 168.72 L862 168.75 L862.5 168.35 L863 167.88 L863.5 167.38 L864 166.92 L864.5 166.54 L865 166.3 L865.5 166.6 L866 167.46 L866.5 168.48 L867 169.65 L867.5 170.91 L868 172.25 L868.5 173.62 L869 175 L869.5 176.25 L870 177.44 L870.5 178.51 L871 179.45 L871.5 180.21 L872 180.75 L872.5 180.21 L873 179.46 L873.5 178.52 L874 177.44 L874.5 176.25 L875 174.83 L875.5 173.37 L876 171.92 L876.5 170.52 L877 169.21 L877.5 168.04 L878 167.04 L878.5 166.25 L879 166.55 L879.5 167.05 L880 167.7 L880.5 168.44 L881 169.23 L881.5 170 L882 170.61 L882.5 171.13 L883 171.55 L883.5 171.85 L884 172 L884.5 171.47 L885 170.82 L885.5 170.06 L886 169.24 L886.5 168.37 L887 167.5 L887.5 166.66 L888 165.92 L888.5 165.31 L889 164.76 L889.5 164.25 L890 163.78 L890.5 163.34 L891 162.91 L891.5 162.5" fill="none" stroke="#34408a" stroke-width="1.05" stroke-linejoin="round"/>
<path d="M466.6 113.5 L474.4 113.5 L470.5 121.8 Z" fill="#1818d8"/>
<text x="462.7" y="111.5" font-size="13.5" fill="#18188a" textLength="16.3" lengthAdjust="spacingAndGlyphs" stroke="#18188a" stroke-width="0.45">M1</text>
<path d="M790.6 153.25 L798.4 153.25 L794.5 161.55 Z" fill="#1818d8"/>
<text x="786.7" y="151.25" font-size="13.5" fill="#18188a" textLength="16.3" lengthAdjust="spacingAndGlyphs" stroke="#18188a" stroke-width="0.45">M2</text>
<path d="M856.85 160 L864.65 160 L860.75 168.3 Z" fill="#1818d8"/>
<text x="852.95" y="158" font-size="13.5" fill="#18188a" textLength="16.3" lengthAdjust="spacingAndGlyphs" stroke="#18188a" stroke-width="0.45">M3</text>
<text x="869.8" y="39.1" font-size="13" fill="#18188a" textLength="15.7" lengthAdjust="spacingAndGlyphs" stroke="#18188a" stroke-width="0.35">dB</text>
<text x="823.1" y="39.1" font-size="13" fill="#18188a" textLength="41" lengthAdjust="spacingAndGlyphs" stroke="#18188a" stroke-width="0.35">-0.550</text>
<text x="758.15" y="39.1" font-size="13" fill="#18188a" textLength="56.75" lengthAdjust="spacingAndGlyphs" stroke="#18188a" stroke-width="0.35">2.41 GHz</text>
<text x="732.55" y="39.1" font-size="13" fill="#18188a" textLength="16.2" lengthAdjust="spacingAndGlyphs" stroke="#18188a" stroke-width="0.35">M1</text>
<text x="869.8" y="53.8" font-size="13" fill="#18188a" textLength="15.7" lengthAdjust="spacingAndGlyphs" stroke="#18188a" stroke-width="0.35">dB</text>
<text x="823.1" y="53.8" font-size="13" fill="#18188a" textLength="41" lengthAdjust="spacingAndGlyphs" stroke="#18188a" stroke-width="0.35">-0.858</text>
<text x="758.15" y="53.8" font-size="13" fill="#18188a" textLength="56.75" lengthAdjust="spacingAndGlyphs" stroke="#18188a" stroke-width="0.35">5.17 GHz</text>
<text x="732.55" y="53.8" font-size="13" fill="#18188a" textLength="16.2" lengthAdjust="spacingAndGlyphs" stroke="#18188a" stroke-width="0.35">M2</text>
<text x="869.8" y="68.6" font-size="13" fill="#18188a" textLength="15.7" lengthAdjust="spacingAndGlyphs" stroke="#18188a" stroke-width="0.35">dB</text>
<text x="823.1" y="68.6" font-size="13" fill="#18188a" textLength="41" lengthAdjust="spacingAndGlyphs" stroke="#18188a" stroke-width="0.35">-0.909</text>
<text x="758.15" y="68.6" font-size="13" fill="#18188a" textLength="56.75" lengthAdjust="spacingAndGlyphs" stroke="#18188a" stroke-width="0.35">5.74 GHz</text>
<text x="732.55" y="68.6" font-size="13" fill="#18188a" textLength="16.2" lengthAdjust="spacingAndGlyphs" stroke="#18188a" stroke-width="0.35">M3</text>
</g>
<rect x="451.5" y="1" width="300.7" height="17.5" rx="4" ry="4" fill="url(#bar)" stroke="#666" stroke-width="1"/>
<path d="M454.5 18.3 H749.2" fill="none" stroke="#1a1a1a" stroke-width="1.4"/>
<path d="M455.5 1 A4 4 0 0 0 451.5 5 V14.5 A4 4 0 0 0 455.5 18.5" fill="none" stroke="#111" stroke-width="1.6"/>
<path d="M455.5 1.5 H484.5 V18 H455.5 A3.5 3.5 0 0 1 452 14.5 V5 A3.5 3.5 0 0 1 455.5 1.5 Z" fill="url(#cell)"/>
<text x="459" y="14.6" font-size="12" fill="#fff" textLength="22" lengthAdjust="spacingAndGlyphs" font-weight="bold">Trc2</text>
<rect x="484.5" y="0.7" width="31.7" height="17.8" fill="#1a12cc"/>
<text x="489" y="14.6" font-size="12.5" fill="#0c0a86" textLength="22.5" lengthAdjust="spacingAndGlyphs">S12</text>
<text x="520.5" y="14.6" font-size="13" fill="#0a0a0a" textLength="43.6" lengthAdjust="spacingAndGlyphs" stroke="#0a0a0a" stroke-width="0.35">dB Mag</text>
<text x="572.3" y="14.6" font-size="13" fill="#0a0a0a" textLength="47.8" lengthAdjust="spacingAndGlyphs" stroke="#0a0a0a" stroke-width="0.35">0.2 dB/</text>
<text x="623.8" y="14.6" font-size="13" fill="#0a0a0a" textLength="71.2" lengthAdjust="spacingAndGlyphs" stroke="#0a0a0a" stroke-width="0.35">Ref -0.8 dB</text>
<text x="701" y="14.6" font-size="13" fill="#0a0a0a" textLength="46.8" lengthAdjust="spacingAndGlyphs" stroke="#0a0a0a" stroke-width="0.35">Cal Offs</text>
<line x1="568.8" y1="2" x2="568.8" y2="17.3" stroke="#777" stroke-opacity="0.5" stroke-width="1"/>
<line x1="569.8" y1="2" x2="569.8" y2="17.3" stroke="#fff" stroke-opacity="0.3" stroke-width="1"/>
<line x1="697.7" y1="2" x2="697.7" y2="17.3" stroke="#777" stroke-opacity="0.5" stroke-width="1"/>
<line x1="698.7" y1="2" x2="698.7" y2="17.3" stroke="#fff" stroke-opacity="0.3" stroke-width="1"/>
<rect x="862.7" y="1.2" width="23.5" height="17.4" fill="url(#num)"/>
<rect x="862.7" y="17.6" width="23.5" height="1" fill="#000" fill-opacity="0.12"/>
<text x="874.6" y="14.9" font-size="13" fill="#111" text-anchor="middle" stroke="#111" stroke-width="0.4">2</text>
<rect x="451.5" y="290.2" width="435.2" height="18.2" rx="4" ry="4" fill="url(#bar)" stroke="#666" stroke-width="1"/>
<path d="M454.5 308.2 H883.7" fill="none" stroke="#1a1a1a" stroke-width="1.4"/>
<path d="M455.5 290.2 A4 4 0 0 0 451.5 294.2 V304.4 A4 4 0 0 0 455.5 308.4" fill="none" stroke="#111" stroke-width="1.6"/>
<path d="M455.5 290.7 H483.9 V307.9 H455.5 A3.5 3.5 0 0 1 452 304.4 V294.2 A3.5 3.5 0 0 1 455.5 290.7 Z" fill="url(#cell)"/>
<text x="457.3" y="304.9" font-size="12" fill="#fff" textLength="23.8" lengthAdjust="spacingAndGlyphs" font-weight="bold">Ch1</text>
<text x="489" y="304.9" font-size="13" fill="#0a0a0a" textLength="30" lengthAdjust="spacingAndGlyphs" stroke="#0a0a0a" stroke-width="0.35">Start</text>
<text x="526.8" y="304.9" font-size="13" fill="#0a0a0a" textLength="48.2" lengthAdjust="spacingAndGlyphs" stroke="#0a0a0a" stroke-width="0.35">2.2 GHz</text>
<text x="590.5" y="304.9" font-size="13" fill="#0a0a0a" textLength="20.4" lengthAdjust="spacingAndGlyphs" stroke="#0a0a0a" stroke-width="0.35">Pwr</text>
<text x="618.5" y="304.9" font-size="13" fill="#0a0a0a" textLength="53.2" lengthAdjust="spacingAndGlyphs" stroke="#0a0a0a" stroke-width="0.35">-10 dBm</text>
<text x="680" y="304.9" font-size="13" fill="#0a0a0a" textLength="17" lengthAdjust="spacingAndGlyphs" stroke="#0a0a0a" stroke-width="0.35">Bw</text>
<text x="705.3" y="304.9" font-size="13" fill="#0a0a0a" textLength="40.7" lengthAdjust="spacingAndGlyphs" stroke="#0a0a0a" stroke-width="0.35">10 kHz</text>
<text x="809.9" y="304.9" font-size="13" fill="#0a0a0a" textLength="27.6" lengthAdjust="spacingAndGlyphs" stroke="#0a0a0a" stroke-width="0.35">Stop</text>
<text x="846.3" y="304.9" font-size="13" fill="#0a0a0a" textLength="35.6" lengthAdjust="spacingAndGlyphs" stroke="#0a0a0a" stroke-width="0.35">6 GHz</text>
<line x1="483.9" y1="291.2" x2="483.9" y2="307.2" stroke="#777" stroke-opacity="0.5" stroke-width="1"/>
<line x1="484.9" y1="291.2" x2="484.9" y2="307.2" stroke="#fff" stroke-opacity="0.3" stroke-width="1"/>
<line x1="521.8" y1="291.2" x2="521.8" y2="307.2" stroke="#777" stroke-opacity="0.5" stroke-width="1"/>
<line x1="522.8" y1="291.2" x2="522.8" y2="307.2" stroke="#fff" stroke-opacity="0.3" stroke-width="1"/>
<line x1="614.3" y1="291.2" x2="614.3" y2="307.2" stroke="#777" stroke-opacity="0.5" stroke-width="1"/>
<line x1="615.3" y1="291.2" x2="615.3" y2="307.2" stroke="#fff" stroke-opacity="0.3" stroke-width="1"/>
<line x1="675.9" y1="291.2" x2="675.9" y2="307.2" stroke="#777" stroke-opacity="0.5" stroke-width="1"/>
<line x1="676.9" y1="291.2" x2="676.9" y2="307.2" stroke="#fff" stroke-opacity="0.3" stroke-width="1"/>
<line x1="700.5" y1="291.2" x2="700.5" y2="307.2" stroke="#777" stroke-opacity="0.5" stroke-width="1"/>
<line x1="701.5" y1="291.2" x2="701.5" y2="307.2" stroke="#fff" stroke-opacity="0.3" stroke-width="1"/>
<line x1="804.8" y1="291.2" x2="804.8" y2="307.2" stroke="#777" stroke-opacity="0.5" stroke-width="1"/>
<line x1="805.8" y1="291.2" x2="805.8" y2="307.2" stroke="#fff" stroke-opacity="0.3" stroke-width="1"/>
<line x1="841.5" y1="291.2" x2="841.5" y2="307.2" stroke="#777" stroke-opacity="0.5" stroke-width="1"/>
<line x1="842.5" y1="291.2" x2="842.5" y2="307.2" stroke="#fff" stroke-opacity="0.3" stroke-width="1"/>
<g clip-path="url(#clip3)">
<line x1="-1" y1="344.5" x2="-1" y2="604.5" stroke="#b8b8b8" stroke-width="1"/>
<line x1="43.5" y1="344.5" x2="43.5" y2="604.5" stroke="#b8b8b8" stroke-width="1"/>
<line x1="88" y1="344.5" x2="88" y2="604.5" stroke="#b8b8b8" stroke-width="1"/>
<line x1="132.5" y1="344.5" x2="132.5" y2="604.5" stroke="#b8b8b8" stroke-width="1"/>
<line x1="177" y1="344.5" x2="177" y2="604.5" stroke="#b8b8b8" stroke-width="1"/>
<line x1="221.5" y1="344.5" x2="221.5" y2="604.5" stroke="#b8b8b8" stroke-width="1"/>
<line x1="266" y1="344.5" x2="266" y2="604.5" stroke="#b8b8b8" stroke-width="1"/>
<line x1="310.5" y1="344.5" x2="310.5" y2="604.5" stroke="#b8b8b8" stroke-width="1"/>
<line x1="355" y1="344.5" x2="355" y2="604.5" stroke="#b8b8b8" stroke-width="1"/>
<line x1="399.5" y1="344.5" x2="399.5" y2="604.5" stroke="#b8b8b8" stroke-width="1"/>
<line x1="444" y1="344.5" x2="444" y2="604.5" stroke="#b8b8b8" stroke-width="1"/>
<line x1="-1" y1="344.5" x2="444" y2="344.5" stroke="#c4c4c4" stroke-width="1"/>
<line x1="-1" y1="370.5" x2="444" y2="370.5" stroke="#c4c4c4" stroke-width="1"/>
<line x1="-1" y1="396.4" x2="444" y2="396.4" stroke="#c4c4c4" stroke-width="1"/>
<line x1="-1" y1="421.8" x2="444" y2="421.8" stroke="#c4c4c4" stroke-width="1"/>
<line x1="-1" y1="448.2" x2="444" y2="448.2" stroke="#c4c4c4" stroke-width="1"/>
<line x1="-1" y1="500.3" x2="444" y2="500.3" stroke="#c4c4c4" stroke-width="1"/>
<line x1="-1" y1="526.4" x2="444" y2="526.4" stroke="#c4c4c4" stroke-width="1"/>
<line x1="-1" y1="552.4" x2="444" y2="552.4" stroke="#c4c4c4" stroke-width="1"/>
<line x1="-1" y1="578.1" x2="444" y2="578.1" stroke="#c4c4c4" stroke-width="1"/>
<line x1="-1" y1="604.5" x2="444" y2="604.5" stroke="#c4c4c4" stroke-width="1"/>
<text x="6.5" y="354.8" font-size="11" fill="#b8b8b8">0.25</text>
<rect x="5" y="368.5" width="23.92" height="4" fill="#fff"/>
<text x="6.5" y="374.5" font-size="11" fill="#b8b8b8">0.05</text>
<rect x="5" y="394.4" width="27.58" height="4" fill="#fff"/>
<text x="6.5" y="400.4" font-size="11" fill="#b8b8b8">-0.15</text>
<rect x="5" y="419.8" width="27.58" height="4" fill="#fff"/>
<text x="6.5" y="425.8" font-size="11" fill="#b8b8b8">-0.35</text>
<rect x="5" y="446.2" width="27.58" height="4" fill="#fff"/>
<text x="6.5" y="452.2" font-size="11" fill="#b8b8b8">-0.55</text>
<rect x="5" y="498.3" width="27.58" height="4" fill="#fff"/>
<text x="6.5" y="504.3" font-size="11" fill="#b8b8b8">-0.95</text>
<rect x="5" y="524.4" width="27.58" height="4" fill="#fff"/>
<text x="6.5" y="530.4" font-size="11" fill="#b8b8b8">-1.15</text>
<rect x="5" y="550.4" width="27.58" height="4" fill="#fff"/>
<text x="6.5" y="556.4" font-size="11" fill="#b8b8b8">-1.35</text>
<rect x="5" y="576.1" width="27.58" height="4" fill="#fff"/>
<text x="6.5" y="582.1" font-size="11" fill="#b8b8b8">-1.55</text>
<text x="6.5" y="602.6" font-size="11" fill="#b8b8b8">-1.75</text>
<line x1="48" y1="474.2" x2="431.5" y2="474.2" stroke="#111" stroke-width="1" stroke-dasharray="1.1 1.5"/>
<text x="-1.1" y="479.8" font-size="13.6" fill="#000" textLength="47.1" lengthAdjust="spacingAndGlyphs">-0.75 dB</text>
<path d="M431.5 474.2 L445 467.6 L445 480.8 Z" fill="#1818d8"/>
<path d="M-1 449.5 L-0.5 449.13 L0 448.77 L0.5 448.41 L1 448.07 L1.5 447.74 L2 447.43 L2.5 447.15 L3 446.9 L3.5 446.68 L4 446.49 L4.5 446.35 L5 446.25 L5.5 446.47 L6 446.74 L6.5 447.04 L7 447.38 L7.5 447.74 L8 448.13 L8.5 448.54 L9 448.96 L9.5 449.39 L10 449.8 L10.5 450.19 L11 450.55 L11.5 450.85 L12 451.09 L12.5 451.25 L13 450.95 L13.5 450.56 L14 450.11 L14.5 449.59 L15 449.03 L15.5 448.44 L16 447.82 L16.5 447.21 L17 446.64 L17.5 446.1 L18 445.64 L18.5 445.28 L19 445.06 L19.5 445 L20 445.87 L20.5 446.91 L21 448.12 L21.5 449.47 L22 450.93 L22.5 452.5 L23 454.27 L23.5 455.96 L24 457.41 L24.5 457.89 L25 457.34 L25.5 456.45 L26 455.31 L26.5 454 L27 452.62 L27.5 451.25 L28 450.11 L28.5 449.07 L29 448.16 L29.5 447.37 L30 446.72 L30.5 446.22 L31 445.87 L31.5 446.08 L32 446.85 L32.5 447.76 L33 448.79 L33.5 449.93 L34 451.14 L34.5 452.42 L35 453.75 L35.5 455.12 L36 456.47 L36.5 457.78 L37 459 L37.5 460.09 L38 461.01 L38.5 461.73 L39 461.71 L39.5 460.95 L40 459.99 L40.5 458.88 L41 457.65 L41.5 456.36 L42 455.05 L42.5 453.75 L43 452.66 L43.5 451.66 L44 450.76 L44.5 449.99 L45 449.37 L45.5 448.91 L46 449.01 L46.5 449.67 L47 450.47 L47.5 451.38 L48 452.38 L48.5 453.42 L49 454.48 L49.5 455.47 L50 456.37 L50.5 457.2 L51 457.95 L51.5 458.6 L52 459.12 L52.5 459.5 L53 459.11 L53.5 458.59 L54 457.96 L54.5 457.25 L55 456.48 L55.5 455.69 L56 454.89 L56.5 454.18 L57 453.58 L57.5 453.05 L58 452.61 L58.5 452.28 L59 452.07 L59.5 452 L60 452.68 L60.5 453.49 L61 454.41 L61.5 455.4 L62 456.44 L62.5 457.5 L63 458.43 L63.5 459.33 L64 460.16 L64.5 460.91 L65 461.55 L65.5 462.05 L66 462.4 L66.5 462.18 L67 461.42 L67.5 460.51 L68 459.49 L68.5 458.39 L69 457.26 L69.5 456.11 L70 455 L70.5 454.13 L71 453.36 L71.5 452.72 L72 452.26 L72.5 452 L73 452.8 L73.5 453.81 L74 454.99 L74.5 456.31 L75 457.74 L75.5 459.24 L76 460.75 L76.5 462.26 L77 463.71 L77.5 465.07 L78 466.3 L78.5 467.36 L79 468.19 L79.5 468.75 L80 467.82 L80.5 466.63 L81 465.22 L81.5 463.65 L82 461.96 L82.5 460.19 L83 458.39 L83.5 456.67 L84 455.08 L84.5 453.6 L85 452.28 L85.5 451.17 L86 450.32 L86.5 450.34 L87 451.25 L87.5 452.41 L88 453.75 L88.5 455.24 L89 456.81 L89.5 458.42 L90 460 L90.5 461.33 L91 462.58 L91.5 463.71 L92 464.71 L92.5 465.58 L93 466.28 L93.5 466.81 L94 466.72 L94.5 466.03 L95 465.19 L95.5 464.24 L96 463.21 L96.5 462.14 L97 461.05 L97.5 460 L98 459.17 L98.5 458.41 L99 457.73 L99.5 457.16 L100 456.7 L100.5 456.37 L101 456.45 L101.5 456.94 L102 457.53 L102.5 458.21 L103 458.94 L103.5 459.71 L104 460.49 L104.5 461.25 L105 461.86 L105.5 462.41 L106 462.9 L106.5 463.29 L107 463.58 L107.5 463.75 L108 463.3 L108.5 462.74 L109 462.1 L109.5 461.38 L110 460.64 L110.5 459.87 L111 459.12 L111.5 458.47 L112 457.95 L112.5 457.52 L113 457.2 L113.5 457.03 L114 457.33 L114.5 458.12 L115 459.05 L115.5 460.11 L116 461.26 L116.5 462.48 L117 463.75 L117.5 464.97 L118 466.17 L118.5 467.29 L119 468.29 L119.5 469.1 L120 469.69 L120.5 470 L121 468.91 L121.5 467.55 L122 466.01 L122.5 464.33 L123 462.59 L123.5 460.85 L124 459.3 L124.5 457.99 L125 456.85 L125.5 455.92 L126 455.24 L126.5 455.4 L127 456.42 L127.5 457.69 L128 459.16 L128.5 460.8 L129 462.55 L129.5 464.38 L130 466.25 L130.5 468.06 L131 469.82 L131.5 471.49 L132 473.03 L132.5 474.39 L133 475.53 L133.5 476.42 L134 476.38 L134.5 475.41 L135 474.2 L135.5 472.8 L136 471.25 L136.5 469.61 L137 467.93 L137.5 466.25 L138 464.76 L138.5 463.35 L139 462.03 L139.5 460.85 L140 459.81 L140.5 458.94 L141 458.26 L141.5 458.25 L142 458.91 L142.5 459.73 L143 460.68 L143.5 461.73 L144 462.82 L144.5 463.92 L145 465 L145.5 465.9 L146 466.73 L146.5 467.48 L147 468.17 L147.5 468.79 L148 469.33 L148.5 469.8 L149 469.98 L149.5 469.87 L150 469.7 L150.5 469.46 L151 469.16 L151.5 468.82 L152 468.43 L152.5 468 L153 467.42 L153.5 466.82 L154 466.23 L154.5 465.67 L155 465.15 L155.5 464.7 L156 464.47 L156.5 464.49 L157 464.57 L157.5 464.7 L158 464.86 L158.5 465.04 L159 465.22 L159.5 465.38 L160 465.5 L160.5 465.47 L161 465.4 L161.5 465.3 L162 465.17 L162.5 465.03 L163 464.89 L163.5 464.75 L164 464.64 L164.5 464.55 L165 464.5 L165.5 464.73 L166 465 L166.5 465.33 L167 465.71 L167.5 466.15 L168 466.65 L168.5 467.2 L169 467.86 L169.5 468.6 L170 469.35 L170.5 470.1 L171 470.79 L171.5 471.41 L172 471.92 L172.5 472.29 L173 472.5 L173.5 471.82 L174 470.98 L174.5 470.02 L175 468.98 L175.5 467.89 L176 466.79 L176.5 465.79 L177 464.92 L177.5 464.13 L178 463.42 L178.5 462.82 L179 462.34 L179.5 462 L180 462.45 L180.5 463.05 L181 463.76 L181.5 464.58 L182 465.48 L182.5 466.46 L183 467.5 L183.5 468.69 L184 469.88 L184.5 471.03 L185 472.11 L185.5 473.08 L186 473.91 L186.5 474.18 L187 473.91 L187.5 473.48 L188 472.91 L188.5 472.26 L189 471.53 L189.5 470.77 L190 470 L190.5 469.23 L191 468.5 L191.5 467.82 L192 467.21 L192.5 466.68 L193 466.25 L193.5 466.37 L194 466.58 L194.5 466.87 L195 467.23 L195.5 467.65 L196 468.09 L196.5 468.56 L197 469.03 L197.5 469.5 L198 469.9 L198.5 470.29 L199 470.64 L199.5 470.97 L200 471.27 L200.5 471.55 L201 471.8 L201.5 472.02 L202 472.21 L202.5 472.37 L203 472.5 L203.5 472.41 L204 472.29 L204.5 472.15 L205 471.99 L205.5 471.82 L206 471.64 L206.5 471.46 L207 471.28 L207.5 471.11 L208 470.95 L208.5 470.81 L209 470.7 L209.5 470.63 L210 470.56 L210.5 470.49 L211 470.41 L211.5 470.31 L212 470.17 L212.5 470 L213 469.68 L213.5 469.32 L214 468.94 L214.5 468.57 L215 468.21 L215.5 467.88 L216 467.61 L216.5 467.57 L217 467.77 L217.5 468.04 L218 468.4 L218.5 468.85 L219 469.38 L219.5 470 L220 470.98 L220.5 472.02 L221 473.06 L221.5 474.07 L222 475 L222.5 475.66 L223 476.25 L223.5 476.61 L224 476.93 L224.5 477.19 L225 477.38 L225.5 477.49 L226 477.5 L226.5 476.96 L227 476.32 L227.5 475.6 L228 474.81 L228.5 473.96 L229 473.08 L229.5 472.17 L230 471.25 L230.5 470.42 L231 469.61 L231.5 468.87 L232 468.2 L232.5 467.66 L233 467.24 L233.5 467 L234 467.68 L234.5 468.53 L235 469.52 L235.5 470.63 L236 471.83 L236.5 473.1 L237 474.46 L237.5 475.86 L238 477.22 L238.5 478.46 L239 479.54 L239.5 479.95 L240 479.68 L240.5 479.21 L241 478.56 L241.5 477.76 L242 476.86 L242.5 475.86 L243 474.82 L243.5 473.75 L244 472.64 L244.5 471.56 L245 470.53 L245.5 469.58 L246 468.73 L246.5 468 L247 467.41 L247.5 467 L248 467.5 L248.5 468.16 L249 468.93 L249.5 469.79 L250 470.69 L250.5 471.61 L251 472.5 L251.5 473.26 L252 473.97 L252.5 474.63 L253 475.26 L253.5 475.85 L254 476.41 L254.5 476.96 L255 477.5 L255.5 477.83 L256 478.16 L256.5 478.47 L257 478.75 L257.5 479.01 L258 479.22 L258.5 479.39 L259 479.52 L259.5 479.58 L260 479.57 L260.5 479.5 L261 479 L261.5 478.43 L262 477.83 L262.5 477.19 L263 476.54 L263.5 475.91 L264 475.29 L264.5 474.76 L265 474.33 L265.5 473.92 L266 473.54 L266.5 473.17 L267 472.8 L267.5 472.41 L268 472 L268.5 471.62 L269 471.23 L269.5 470.85 L270 470.52 L270.5 470.24 L271 470.06 L271.5 469.99 L272 470.37 L272.5 471.23 L273 472.22 L273.5 473.33 L274 474.55 L274.5 475.86 L275 477.27 L275.5 478.75 L276 480.36 L276.5 481.98 L277 483.57 L277.5 485.05 L278 486.39 L278.5 487.53 L279 488.42 L279.5 488.36 L280 487.37 L280.5 486.11 L281 484.63 L281.5 482.99 L282 481.22 L282.5 479.37 L283 477.5 L283.5 475.64 L284 473.83 L284.5 472.1 L285 470.49 L285.5 469.03 L286 467.75 L286.5 466.69 L287 466.43 L287.5 466.98 L288 467.75 L288.5 468.72 L289 469.85 L289.5 471.12 L290 472.5 L290.5 474.46 L291 476.49 L291.5 478.57 L292 480.7 L292.5 482.84 L293 485 L293.5 486.86 L294 488.67 L294.5 490.39 L295 491.97 L295.5 493.37 L296 494.54 L296.5 495.42 L297 495.34 L297.5 494.29 L298 492.98 L298.5 491.46 L299 489.79 L299.5 488.04 L300 486.25 L300.5 484.39 L301 482.57 L301.5 480.82 L302 479.17 L302.5 477.64 L303 476.25 L303.5 475.59 L304 475.08 L304.5 474.7 L305 474.43 L305.5 474.25 L306 474.49 L306.5 474.8 L307 475.16 L307.5 475.55 L308 475.96 L308.5 476.38 L309 476.8 L309.5 477.19 L310 477.57 L310.5 477.93 L311 478.27 L311.5 478.61 L312 478.95 L312.5 479.29 L313 479.64 L313.5 480 L314 480.43 L314.5 480.88 L315 481.34 L315.5 481.81 L316 482.29 L316.5 482.77 L317 483.26 L317.5 483.75 L318 484.14 L318.5 484.5 L319 484.84 L319.5 485.12 L320 485.33 L320.5 485.47 L321 485.5 L321.5 484.93 L322 484.25 L322.5 483.46 L323 482.58 L323.5 481.61 L324 480.56 L324.5 479.4 L325 478.18 L325.5 476.98 L326 475.87 L326.5 474.92 L327 474.19 L327.5 473.75 L328 474.82 L328.5 476.2 L329 477.83 L329.5 479.66 L330 481.65 L330.5 483.75 L331 486.28 L331.5 488.83 L332 491.37 L332.5 493.86 L333 496.25 L333.5 497.95 L334 499.48 L334.5 500.78 L335 501.8 L335.5 502.5 L336 501.62 L336.5 500.42 L337 498.97 L337.5 497.34 L338 495.57 L338.5 493.75 L339 491.71 L339.5 489.69 L340 487.7 L340.5 485.77 L341 483.9 L341.5 482.11 L342 480.66 L342.5 479.57 L343 478.62 L343.5 477.83 L344 477.23 L344.5 477.22 L345 477.82 L345.5 478.6 L346 479.55 L346.5 480.64 L347 481.85 L347.5 483.37 L348 485.17 L348.5 487.01 L349 488.87 L349.5 490.71 L350 492.5 L350.5 493.82 L351 495.04 L351.5 496.12 L352 497.03 L352.5 497.75 L353 498.25 L353.5 497.58 L354 496.71 L354.5 495.66 L355 494.49 L355.5 493.24 L356 491.94 L356.5 490.64 L357 489.4 L357.5 488.24 L358 487.14 L358.5 486.1 L359 485.11 L359.5 484.18 L360 483.31 L360.5 482.5 L361 482.09 L361.5 481.73 L362 481.43 L362.5 481.18 L363 480.99 L363.5 480.85 L364 480.77 L364.5 480.92 L365 481.31 L365.5 481.76 L366 482.27 L366.5 482.84 L367 483.49 L367.5 484.21 L368 485 L368.5 486.18 L369 487.41 L369.5 488.69 L370 489.97 L370.5 491.25 L371 492.5 L371.5 493.44 L372 494.3 L372.5 495.05 L373 495.66 L373.5 496.1 L374 495.97 L374.5 495.26 L375 494.39 L375.5 493.39 L376 492.29 L376.5 491.13 L377 489.94 L377.5 488.75 L378 487.72 L378.5 486.76 L379 485.88 L379.5 485.11 L380 484.48 L380.5 484.02 L381 483.75 L381.5 484.53 L382 485.49 L382.5 486.6 L383 487.84 L383.5 489.16 L384 490.55 L384.5 492.03 L385 493.57 L385.5 495.11 L386 496.61 L386.5 498.06 L387 499.45 L387.5 500.75 L388 501.52 L388.5 502.17 L389 502.69 L389.5 503.05 L390 503.25 L390.5 502.59 L391 501.78 L391.5 500.83 L392 499.78 L392.5 498.65 L393 497.46 L393.5 496.25 L394 494.92 L394.5 493.6 L395 492.29 L395.5 491 L396 489.75 L396.5 488.53 L397 487.36 L397.5 486.25 L398 485.54 L398.5 484.91 L399 484.39 L399.5 484 L400 483.75 L400.5 484.21 L401 484.8 L401.5 485.5 L402 486.28 L402.5 487.1 L403 487.93 L403.5 488.75 L404 489.45 L404.5 490.12 L405 490.73 L405.5 491.31 L406 491.86 L406.5 492.37 L407 492.86 L407.5 493.32 L408 493.75 L408.5 493.94 L409 494.11 L409.5 494.24 L410 494.33 L410.5 494.38 L411 494.37 L411.5 494.31 L412 494.03 L412.5 493.55 L413 493.02 L413.5 492.45 L414 491.85 L414.5 491.23 L415 490.61 L415.5 490 L416 489.54 L416.5 489.12 L417 488.74 L417.5 488.43 L418 488.18 L418.5 488.03 L419 487.98 L419.5 488.31 L420 489.01 L420.5 489.81 L421 490.7 L421.5 491.66 L422 492.68 L422.5 493.75 L423 495.01 L423.5 496.29 L424 497.57 L424.5 498.83 L425 500.06 L425.5 501.25 L426 502.11 L426.5 502.88 L427 503.55 L427.5 504.1 L428 504.5 L428.5 504.18 L429 503.72 L429.5 503.15 L430 502.5 L430.5 501.79 L431 501.07 L431.5 500.35 L432 499.72 L432.5 499.21 L433 498.75 L433.5 498.36 L434 498.03 L434.5 497.78 L435 497.6 L435.5 497.5 L436 497.78 L436.5 498.13 L437 498.51 L437.5 498.91 L438 499.29 L438.5 499.62 L439 499.9 L439.5 499.95 L440 499.78 L440.5 499.53 L441 499.24 L441.5 498.92 L442 498.55 L442.5 498.17 L443 497.78 L443.5 497.4 L444 497.01 L444.5 496.63 L445 496.25" fill="none" stroke="#34408a" stroke-width="1.05" stroke-linejoin="round"/>
<path d="M20.35 450 L28.15 450 L24.25 458.3 Z" fill="#1818d8"/>
<text x="16.45" y="448" font-size="13.5" fill="#18188a" textLength="16.3" lengthAdjust="spacingAndGlyphs" stroke="#18188a" stroke-width="0.45">M1</text>
<path d="M342.85 475.25 L350.65 475.25 L346.75 483.55 Z" fill="#1818d8"/>
<text x="338.95" y="473.25" font-size="13.5" fill="#18188a" textLength="16.3" lengthAdjust="spacingAndGlyphs" stroke="#18188a" stroke-width="0.45">M2</text>
<path d="M409.6 485 L417.4 485 L413.5 493.3 Z" fill="#1818d8"/>
<text x="405.7" y="483" font-size="13.5" fill="#18188a" textLength="16.3" lengthAdjust="spacingAndGlyphs" stroke="#18188a" stroke-width="0.45">M3</text>
<text x="422.3" y="359.1" font-size="13" fill="#18188a" textLength="15.7" lengthAdjust="spacingAndGlyphs" stroke="#18188a" stroke-width="0.35">dB</text>
<text x="375.6" y="359.1" font-size="13" fill="#18188a" textLength="41" lengthAdjust="spacingAndGlyphs" stroke="#18188a" stroke-width="0.35">-0.629</text>
<text x="310.65" y="359.1" font-size="13" fill="#18188a" textLength="56.75" lengthAdjust="spacingAndGlyphs" stroke="#18188a" stroke-width="0.35">2.41 GHz</text>
<text x="285.05" y="359.1" font-size="13" fill="#18188a" textLength="16.2" lengthAdjust="spacingAndGlyphs" stroke="#18188a" stroke-width="0.35">M1</text>
<text x="422.3" y="373.8" font-size="13" fill="#18188a" textLength="15.7" lengthAdjust="spacingAndGlyphs" stroke="#18188a" stroke-width="0.35">dB</text>
<text x="375.6" y="373.8" font-size="13" fill="#18188a" textLength="41" lengthAdjust="spacingAndGlyphs" stroke="#18188a" stroke-width="0.35">-0.819</text>
<text x="310.65" y="373.8" font-size="13" fill="#18188a" textLength="56.75" lengthAdjust="spacingAndGlyphs" stroke="#18188a" stroke-width="0.35">5.17 GHz</text>
<text x="285.05" y="373.8" font-size="13" fill="#18188a" textLength="16.2" lengthAdjust="spacingAndGlyphs" stroke="#18188a" stroke-width="0.35">M2</text>
<text x="422.3" y="388.6" font-size="13" fill="#18188a" textLength="15.7" lengthAdjust="spacingAndGlyphs" stroke="#18188a" stroke-width="0.35">dB</text>
<text x="375.6" y="388.6" font-size="13" fill="#18188a" textLength="41" lengthAdjust="spacingAndGlyphs" stroke="#18188a" stroke-width="0.35">-0.900</text>
<text x="310.65" y="388.6" font-size="13" fill="#18188a" textLength="56.75" lengthAdjust="spacingAndGlyphs" stroke="#18188a" stroke-width="0.35">5.74 GHz</text>
<text x="285.05" y="388.6" font-size="13" fill="#18188a" textLength="16.2" lengthAdjust="spacingAndGlyphs" stroke="#18188a" stroke-width="0.35">M3</text>
</g>
<rect x="4" y="321" width="309.1" height="17.5" rx="4" ry="4" fill="url(#bar)" stroke="#666" stroke-width="1"/>
<path d="M7 338.3 H310.1" fill="none" stroke="#1a1a1a" stroke-width="1.4"/>
<path d="M8 321 A4 4 0 0 0 4 325 V334.5 A4 4 0 0 0 8 338.5" fill="none" stroke="#111" stroke-width="1.6"/>
<path d="M8 321.5 H37 V338 H8 A3.5 3.5 0 0 1 4.5 334.5 V325 A3.5 3.5 0 0 1 8 321.5 Z" fill="url(#cell)"/>
<text x="11.5" y="334.6" font-size="12" fill="#fff" textLength="22" lengthAdjust="spacingAndGlyphs" font-weight="bold">Trc3</text>
<rect x="37" y="320.7" width="31.7" height="17.8" fill="#1a12cc"/>
<text x="41.5" y="334.6" font-size="12.5" fill="#0c0a86" textLength="22.5" lengthAdjust="spacingAndGlyphs">S21</text>
<text x="73.5" y="334.6" font-size="13" fill="#0a0a0a" textLength="43.8" lengthAdjust="spacingAndGlyphs" stroke="#0a0a0a" stroke-width="0.35">dB Mag</text>
<text x="125.5" y="334.6" font-size="13" fill="#0a0a0a" textLength="47.7" lengthAdjust="spacingAndGlyphs" stroke="#0a0a0a" stroke-width="0.35">0.2 dB/</text>
<text x="177" y="334.6" font-size="13" fill="#0a0a0a" textLength="77.5" lengthAdjust="spacingAndGlyphs" stroke="#0a0a0a" stroke-width="0.35">Ref -0.75 dB</text>
<text x="262.5" y="334.6" font-size="13" fill="#0a0a0a" textLength="46.3" lengthAdjust="spacingAndGlyphs" stroke="#0a0a0a" stroke-width="0.35">Cal Offs</text>
<rect x="415.2" y="321.2" width="23.5" height="17.4" fill="url(#num)"/>
<rect x="415.2" y="337.6" width="23.5" height="1" fill="#000" fill-opacity="0.12"/>
<text x="427.1" y="334.9" font-size="13" fill="#111" text-anchor="middle" stroke="#111" stroke-width="0.4">3</text>
<rect x="4" y="610.2" width="435.2" height="18.2" rx="4" ry="4" fill="url(#bar)" stroke="#666" stroke-width="1"/>
<path d="M7 628.2 H436.2" fill="none" stroke="#1a1a1a" stroke-width="1.4"/>
<path d="M8 610.2 A4 4 0 0 0 4 614.2 V624.4 A4 4 0 0 0 8 628.4" fill="none" stroke="#111" stroke-width="1.6"/>
<path d="M8 610.7 H36.4 V627.9 H8 A3.5 3.5 0 0 1 4.5 624.4 V614.2 A3.5 3.5 0 0 1 8 610.7 Z" fill="url(#cell)"/>
<text x="9.8" y="624.9" font-size="12" fill="#fff" textLength="23.8" lengthAdjust="spacingAndGlyphs" font-weight="bold">Ch1</text>
<text x="41.5" y="624.9" font-size="13" fill="#0a0a0a" textLength="30" lengthAdjust="spacingAndGlyphs" stroke="#0a0a0a" stroke-width="0.35">Start</text>
<text x="79.3" y="624.9" font-size="13" fill="#0a0a0a" textLength="48.2" lengthAdjust="spacingAndGlyphs" stroke="#0a0a0a" stroke-width="0.35">2.2 GHz</text>
<text x="143" y="624.9" font-size="13" fill="#0a0a0a" textLength="20.4" lengthAdjust="spacingAndGlyphs" stroke="#0a0a0a" stroke-width="0.35">Pwr</text>
<text x="171" y="624.9" font-size="13" fill="#0a0a0a" textLength="53.2" lengthAdjust="spacingAndGlyphs" stroke="#0a0a0a" stroke-width="0.35">-10 dBm</text>
<text x="232.5" y="624.9" font-size="13" fill="#0a0a0a" textLength="17" lengthAdjust="spacingAndGlyphs" stroke="#0a0a0a" stroke-width="0.35">Bw</text>
<text x="257.8" y="624.9" font-size="13" fill="#0a0a0a" textLength="40.7" lengthAdjust="spacingAndGlyphs" stroke="#0a0a0a" stroke-width="0.35">10 kHz</text>
<text x="362.4" y="624.9" font-size="13" fill="#0a0a0a" textLength="27.6" lengthAdjust="spacingAndGlyphs" stroke="#0a0a0a" stroke-width="0.35">Stop</text>
<text x="398.8" y="624.9" font-size="13" fill="#0a0a0a" textLength="35.6" lengthAdjust="spacingAndGlyphs" stroke="#0a0a0a" stroke-width="0.35">6 GHz</text>
<line x1="36.4" y1="611.2" x2="36.4" y2="627.2" stroke="#777" stroke-opacity="0.5" stroke-width="1"/>
<line x1="37.4" y1="611.2" x2="37.4" y2="627.2" stroke="#fff" stroke-opacity="0.3" stroke-width="1"/>
<line x1="74.3" y1="611.2" x2="74.3" y2="627.2" stroke="#777" stroke-opacity="0.5" stroke-width="1"/>
<line x1="75.3" y1="611.2" x2="75.3" y2="627.2" stroke="#fff" stroke-opacity="0.3" stroke-width="1"/>
<line x1="131.2" y1="611.2" x2="131.2" y2="627.2" stroke="#777" stroke-opacity="0.5" stroke-width="1"/>
<line x1="132.2" y1="611.2" x2="132.2" y2="627.2" stroke="#fff" stroke-opacity="0.3" stroke-width="1"/>
<line x1="137.3" y1="611.2" x2="137.3" y2="627.2" stroke="#777" stroke-opacity="0.5" stroke-width="1"/>
<line x1="138.3" y1="611.2" x2="138.3" y2="627.2" stroke="#fff" stroke-opacity="0.3" stroke-width="1"/>
<line x1="166.8" y1="611.2" x2="166.8" y2="627.2" stroke="#777" stroke-opacity="0.5" stroke-width="1"/>
<line x1="167.8" y1="611.2" x2="167.8" y2="627.2" stroke="#fff" stroke-opacity="0.3" stroke-width="1"/>
<line x1="228.4" y1="611.2" x2="228.4" y2="627.2" stroke="#777" stroke-opacity="0.5" stroke-width="1"/>
<line x1="229.4" y1="611.2" x2="229.4" y2="627.2" stroke="#fff" stroke-opacity="0.3" stroke-width="1"/>
<line x1="253" y1="611.2" x2="253" y2="627.2" stroke="#777" stroke-opacity="0.5" stroke-width="1"/>
<line x1="254" y1="611.2" x2="254" y2="627.2" stroke="#fff" stroke-opacity="0.3" stroke-width="1"/>
<line x1="302.7" y1="611.2" x2="302.7" y2="627.2" stroke="#777" stroke-opacity="0.5" stroke-width="1"/>
<line x1="303.7" y1="611.2" x2="303.7" y2="627.2" stroke="#fff" stroke-opacity="0.3" stroke-width="1"/>
<line x1="357.3" y1="611.2" x2="357.3" y2="627.2" stroke="#777" stroke-opacity="0.5" stroke-width="1"/>
<line x1="358.3" y1="611.2" x2="358.3" y2="627.2" stroke="#fff" stroke-opacity="0.3" stroke-width="1"/>
<g clip-path="url(#clip4)">
<line x1="446.5" y1="344.5" x2="446.5" y2="604.5" stroke="#b8b8b8" stroke-width="1"/>
<line x1="490.97" y1="344.5" x2="490.97" y2="604.5" stroke="#b8b8b8" stroke-width="1"/>
<line x1="535.44" y1="344.5" x2="535.44" y2="604.5" stroke="#b8b8b8" stroke-width="1"/>
<line x1="579.91" y1="344.5" x2="579.91" y2="604.5" stroke="#b8b8b8" stroke-width="1"/>
<line x1="624.38" y1="344.5" x2="624.38" y2="604.5" stroke="#b8b8b8" stroke-width="1"/>
<line x1="668.85" y1="344.5" x2="668.85" y2="604.5" stroke="#b8b8b8" stroke-width="1"/>
<line x1="713.32" y1="344.5" x2="713.32" y2="604.5" stroke="#b8b8b8" stroke-width="1"/>
<line x1="757.79" y1="344.5" x2="757.79" y2="604.5" stroke="#b8b8b8" stroke-width="1"/>
<line x1="802.26" y1="344.5" x2="802.26" y2="604.5" stroke="#b8b8b8" stroke-width="1"/>
<line x1="846.73" y1="344.5" x2="846.73" y2="604.5" stroke="#b8b8b8" stroke-width="1"/>
<line x1="891.2" y1="344.5" x2="891.2" y2="604.5" stroke="#b8b8b8" stroke-width="1"/>
<line x1="446.5" y1="344.5" x2="891.2" y2="344.5" stroke="#c4c4c4" stroke-width="1"/>
<line x1="446.5" y1="370.5" x2="891.2" y2="370.5" stroke="#c4c4c4" stroke-width="1"/>
<line x1="446.5" y1="396.4" x2="891.2" y2="396.4" stroke="#c4c4c4" stroke-width="1"/>
<line x1="446.5" y1="421.8" x2="891.2" y2="421.8" stroke="#c4c4c4" stroke-width="1"/>
<line x1="446.5" y1="448.2" x2="891.2" y2="448.2" stroke="#c4c4c4" stroke-width="1"/>
<line x1="446.5" y1="500.3" x2="891.2" y2="500.3" stroke="#c4c4c4" stroke-width="1"/>
<line x1="446.5" y1="526.4" x2="891.2" y2="526.4" stroke="#c4c4c4" stroke-width="1"/>
<line x1="446.5" y1="552.4" x2="891.2" y2="552.4" stroke="#c4c4c4" stroke-width="1"/>
<line x1="446.5" y1="578.1" x2="891.2" y2="578.1" stroke="#c4c4c4" stroke-width="1"/>
<line x1="446.5" y1="604.5" x2="891.2" y2="604.5" stroke="#c4c4c4" stroke-width="1"/>
<text x="454" y="354.8" font-size="11" fill="#b8b8b8">10</text>
<rect x="452.5" y="368.5" width="8.62" height="4" fill="#fff"/>
<text x="454" y="374.5" font-size="11" fill="#b8b8b8">0</text>
<rect x="452.5" y="394.4" width="18.4" height="4" fill="#fff"/>
<text x="454" y="400.4" font-size="11" fill="#b8b8b8">-10</text>
<rect x="452.5" y="419.8" width="18.4" height="4" fill="#fff"/>
<text x="454" y="425.8" font-size="11" fill="#b8b8b8">-20</text>
<rect x="452.5" y="446.2" width="18.4" height="4" fill="#fff"/>
<text x="454" y="452.2" font-size="11" fill="#b8b8b8">-30</text>
<rect x="452.5" y="498.3" width="18.4" height="4" fill="#fff"/>
<text x="454" y="504.3" font-size="11" fill="#b8b8b8">-50</text>
<rect x="452.5" y="524.4" width="18.4" height="4" fill="#fff"/>
<text x="454" y="530.4" font-size="11" fill="#b8b8b8">-60</text>
<rect x="452.5" y="550.4" width="18.4" height="4" fill="#fff"/>
<text x="454" y="556.4" font-size="11" fill="#b8b8b8">-70</text>
<rect x="452.5" y="576.1" width="18.4" height="4" fill="#fff"/>
<text x="454" y="582.1" font-size="11" fill="#b8b8b8">-80</text>
<text x="454" y="602.6" font-size="11" fill="#b8b8b8">-90</text>
<line x1="485" y1="474.2" x2="874.7" y2="474.2" stroke="#111" stroke-width="1" stroke-dasharray="1.1 1.5"/>
<text x="446.4" y="479.8" font-size="13.6" fill="#000" textLength="36.9" lengthAdjust="spacingAndGlyphs">-40 dB</text>
<path d="M874.7 474.3 L893.5 465 L893.5 483.6 Z" fill="#1818d8"/>
<path d="M446 442.5 L446.5 443.39 L447 444.27 L447.5 445.15 L448 446 L448.51 446.83 L449.01 447.63 L449.51 448.4 L450.01 449.12 L450.51 449.78 L451.01 450.36 L451.51 450.82 L452.01 451.14 L452.51 451.29 L453.02 451.25 L453.52 450.99 L454.02 450.54 L454.52 449.92 L455.02 449.18 L455.52 448.32 L456.02 447.4 L456.52 446.43 L457.03 445.44 L457.53 444.47 L458.03 443.52 L458.53 442.6 L459.03 441.7 L459.53 440.84 L460.03 440 L460.53 439.19 L461.03 438.41 L461.54 437.66 L462.04 436.94 L462.54 436.25 L463.04 435.58 L463.54 434.95 L464.04 434.35 L464.54 433.77 L465.04 433.23 L465.54 432.71 L466.05 432.22 L466.55 431.76 L467.05 431.33 L467.55 430.92 L468.05 430.53 L468.55 430.17 L469.05 429.84 L469.55 429.52 L470.06 429.24 L470.56 428.97 L471.06 428.72 L471.56 428.5 L472.06 428.29 L472.56 428.11 L473.06 427.94 L473.56 427.78 L474.06 427.64 L474.57 427.52 L475.07 427.4 L475.57 427.3 L476.07 427.2 L476.57 427.11 L477.07 427.03 L477.57 426.95 L478.07 426.88 L478.57 426.82 L479.08 426.76 L479.58 426.72 L480.08 426.69 L480.58 426.67 L481.08 426.67 L481.58 426.69 L482.08 426.73 L482.58 426.79 L483.08 426.88 L483.59 426.98 L484.09 427.11 L484.59 427.26 L485.09 427.44 L485.59 427.63 L486.09 427.84 L486.59 428.08 L487.09 428.33 L487.6 428.6 L488.1 428.9 L488.6 429.21 L489.1 429.54 L489.6 429.89 L490.1 430.26 L490.6 430.64 L491.1 431.04 L491.6 431.46 L492.11 431.88 L492.61 432.31 L493.11 432.74 L493.61 433.18 L494.11 433.62 L494.61 434.06 L495.11 434.49 L495.61 434.92 L496.11 435.34 L496.62 435.75 L497.12 436.15 L497.62 436.53 L498.12 436.9 L498.62 437.25 L499.12 437.58 L499.62 437.88 L500.12 438.17 L500.62 438.43 L501.13 438.67 L501.63 438.88 L502.13 439.06 L502.63 439.22 L503.13 439.34 L503.63 439.43 L504.13 439.48 L504.63 439.5 L505.14 439.48 L505.64 439.43 L506.14 439.34 L506.64 439.22 L507.14 439.07 L507.64 438.89 L508.14 438.69 L508.64 438.46 L509.14 438.2 L509.65 437.93 L510.15 437.64 L510.65 437.33 L511.15 437 L511.65 436.67 L512.15 436.32 L512.65 435.96 L513.15 435.6 L513.65 435.23 L514.16 434.85 L514.66 434.47 L515.16 434.09 L515.66 433.71 L516.16 433.33 L516.66 432.95 L517.16 432.58 L517.66 432.21 L518.17 431.85 L518.67 431.49 L519.17 431.15 L519.67 430.82 L520.17 430.5 L520.67 430.19 L521.17 429.9 L521.67 429.63 L522.17 429.37 L522.68 429.13 L523.18 428.9 L523.68 428.7 L524.18 428.5 L524.68 428.33 L525.18 428.17 L525.68 428.03 L526.18 427.9 L526.68 427.8 L527.19 427.7 L527.69 427.63 L528.19 427.57 L528.69 427.53 L529.19 427.51 L529.69 427.5 L530.19 427.51 L530.69 427.54 L531.19 427.58 L531.7 427.65 L532.2 427.74 L532.7 427.85 L533.2 427.98 L533.7 428.13 L534.2 428.31 L534.7 428.52 L535.2 428.75 L535.71 429.01 L536.21 429.3 L536.71 429.62 L537.21 429.97 L537.71 430.35 L538.21 430.76 L538.71 431.21 L539.21 431.68 L539.71 432.18 L540.22 432.71 L540.72 433.27 L541.22 433.86 L541.72 434.48 L542.22 435.12 L542.72 435.79 L543.22 436.48 L543.72 437.2 L544.22 437.94 L544.73 438.71 L545.23 439.5 L545.73 440.31 L546.23 441.14 L546.73 441.97 L547.23 442.81 L547.73 443.65 L548.23 444.48 L548.74 445.3 L549.24 446.11 L549.74 446.89 L550.24 447.65 L550.74 448.38 L551.24 449.08 L551.74 449.74 L552.24 450.37 L552.74 450.97 L553.25 451.56 L553.75 452.12 L554.25 452.67 L554.75 453.21 L555.25 453.75 L555.25 453.75 L555.75 452.78 L556.25 451.81 L556.75 450.84 L557.25 449.87 L557.75 448.89 L558.25 447.92 L558.75 446.95 L559.25 445.97 L559.75 445 L560.25 444.03 L560.75 443.05 L561.25 442.09 L561.75 441.13 L562.25 440.18 L562.75 439.25 L563.25 438.33 L563.75 437.44 L564.25 436.57 L564.75 435.72 L565.25 434.91 L565.75 434.13 L566.25 433.38 L566.75 432.67 L567.25 432 L567.75 431.37 L568.25 430.77 L568.75 430.2 L569.25 429.66 L569.75 429.15 L570.25 428.68 L570.75 428.23 L571.25 427.81 L571.75 427.42 L572.25 427.06 L572.75 426.72 L573.25 426.4 L573.75 426.11 L574.25 425.84 L574.75 425.59 L575.25 425.36 L575.75 425.15 L576.25 424.97 L576.75 424.81 L577.25 424.67 L577.75 424.55 L578.25 424.44 L578.75 424.36 L579.25 424.3 L579.75 424.26 L580.25 424.24 L580.75 424.24 L581.25 424.26 L581.75 424.3 L582.25 424.36 L582.75 424.44 L583.25 424.55 L583.75 424.68 L584.25 424.84 L584.75 425.03 L585.25 425.24 L585.75 425.49 L586.25 425.78 L586.75 426.09 L587.25 426.45 L587.75 426.84 L588.25 427.27 L588.75 427.74 L589.25 428.25 L589.75 428.81 L590.25 429.42 L590.75 430.08 L591.25 430.79 L591.75 431.56 L592.25 432.38 L592.75 433.27 L593.25 434.23 L593.75 435.25 L594.25 436.34 L594.75 437.5 L595.25 438.74 L595.75 440.07 L596.25 441.49 L596.75 443.02 L597.25 444.66 L597.75 446.43 L598.25 448.34 L598.75 450.4 L599.25 452.62 L599.75 455 L600.25 457.56 L600.75 460.33 L601.25 463.31 L601.75 466.53 L602.25 470.01 L602.75 473.78 L603.25 477.85 L603.75 482.24 L604.25 486.92 L604.75 491.86 L605.25 496.97 L605.75 502.2 L606.25 507.5 L606.25 507.5 L606.75 500.99 L607.25 494.6 L607.75 488.45 L608.25 482.67 L608.75 477.38 L609.25 472.61 L609.76 468.32 L610.26 464.46 L610.76 460.99 L611.26 457.86 L611.76 455.03 L612.26 452.45 L612.76 450.08 L613.26 447.91 L613.76 445.92 L614.26 444.11 L614.76 442.45 L615.26 440.95 L615.77 439.58 L616.27 438.35 L616.77 437.23 L617.27 436.22 L617.77 435.3 L618.27 434.47 L618.77 433.73 L619.27 433.06 L619.77 432.46 L620.27 431.92 L620.77 431.44 L621.27 431 L621.78 430.61 L622.28 430.26 L622.78 429.93 L623.28 429.63 L623.78 429.34 L624.28 429.07 L624.78 428.81 L625.28 428.57 L625.78 428.34 L626.28 428.13 L626.78 427.93 L627.28 427.75 L627.79 427.59 L628.29 427.44 L628.79 427.32 L629.29 427.21 L629.79 427.12 L630.29 427.06 L630.79 427.01 L631.29 426.99 L631.79 426.98 L632.29 427 L632.79 427.05 L633.29 427.11 L633.8 427.2 L634.3 427.31 L634.8 427.44 L635.3 427.6 L635.8 427.78 L636.3 427.98 L636.8 428.21 L637.3 428.46 L637.8 428.73 L638.3 429.02 L638.8 429.34 L639.3 429.68 L639.8 430.04 L640.31 430.43 L640.81 430.83 L641.31 431.26 L641.81 431.7 L642.31 432.16 L642.81 432.64 L643.31 433.13 L643.81 433.64 L644.31 434.15 L644.81 434.68 L645.31 435.21 L645.81 435.76 L646.32 436.31 L646.82 436.86 L647.32 437.42 L647.82 437.98 L648.32 438.55 L648.82 439.11 L649.32 439.67 L649.82 440.24 L650.32 440.8 L650.82 441.38 L651.32 441.96 L651.82 442.55 L652.33 443.15 L652.83 443.76 L653.33 444.38 L653.83 445.02 L654.33 445.68 L654.83 446.36 L655.33 447.04 L655.83 447.7 L656.33 448.29 L656.83 448.78 L657.33 449.11 L657.83 449.25 L658.34 449.17 L658.84 448.86 L659.34 448.37 L659.84 447.73 L660.34 446.99 L660.84 446.16 L661.34 445.3 L661.84 444.43 L662.34 443.6 L662.84 442.83 L663.34 442.11 L663.84 441.45 L664.35 440.84 L664.85 440.26 L665.35 439.73 L665.85 439.23 L666.35 438.75 L666.85 438.3 L667.35 437.87 L667.85 437.44 L668.35 437.03 L668.85 436.62 L669.35 436.21 L669.85 435.79 L670.35 435.38 L670.86 434.96 L671.36 434.55 L671.86 434.14 L672.36 433.73 L672.86 433.33 L673.36 432.94 L673.86 432.56 L674.36 432.19 L674.86 431.83 L675.36 431.48 L675.86 431.15 L676.36 430.83 L676.87 430.53 L677.37 430.26 L677.87 429.99 L678.37 429.75 L678.87 429.53 L679.37 429.32 L679.87 429.13 L680.37 428.96 L680.87 428.81 L681.37 428.68 L681.87 428.56 L682.37 428.46 L682.88 428.38 L683.38 428.32 L683.88 428.28 L684.38 428.25 L684.88 428.24 L685.38 428.25 L685.88 428.28 L686.38 428.33 L686.88 428.39 L687.38 428.48 L687.88 428.58 L688.38 428.69 L688.89 428.83 L689.39 428.98 L689.89 429.16 L690.39 429.35 L690.89 429.55 L691.39 429.78 L691.89 430.02 L692.39 430.29 L692.89 430.57 L693.39 430.86 L693.89 431.18 L694.39 431.51 L694.9 431.87 L695.4 432.23 L695.9 432.61 L696.4 433.01 L696.9 433.42 L697.4 433.84 L697.9 434.27 L698.4 434.71 L698.9 435.16 L699.4 435.61 L699.9 436.07 L700.4 436.54 L700.9 437.01 L701.41 437.48 L701.91 437.95 L702.41 438.43 L702.91 438.9 L703.41 439.37 L703.91 439.82 L704.41 440.26 L704.91 440.66 L705.41 441.03 L705.91 441.35 L706.41 441.62 L706.91 441.82 L707.42 441.96 L707.92 442.01 L708.42 441.98 L708.92 441.87 L709.42 441.69 L709.92 441.45 L710.42 441.15 L710.92 440.81 L711.42 440.42 L711.92 440 L712.42 439.54 L712.92 439.07 L713.43 438.57 L713.93 438.07 L714.43 437.57 L714.93 437.07 L715.43 436.57 L715.93 436.07 L716.43 435.57 L716.93 435.08 L717.43 434.59 L717.93 434.11 L718.43 433.64 L718.93 433.17 L719.44 432.72 L719.94 432.27 L720.44 431.83 L720.94 431.41 L721.44 431 L721.94 430.61 L722.44 430.23 L722.94 429.86 L723.44 429.52 L723.94 429.19 L724.44 428.87 L724.94 428.57 L725.45 428.29 L725.95 428.02 L726.45 427.76 L726.95 427.52 L727.45 427.3 L727.95 427.08 L728.45 426.88 L728.95 426.69 L729.45 426.51 L729.95 426.34 L730.45 426.19 L730.95 426.04 L731.45 425.91 L731.96 425.79 L732.46 425.69 L732.96 425.61 L733.46 425.55 L733.96 425.5 L734.46 425.48 L734.96 425.49 L735.46 425.52 L735.96 425.57 L736.46 425.65 L736.96 425.76 L737.46 425.89 L737.97 426.05 L738.47 426.23 L738.97 426.44 L739.47 426.67 L739.97 426.93 L740.47 427.2 L740.97 427.5 L741.47 427.83 L741.97 428.17 L742.47 428.54 L742.97 428.93 L743.47 429.34 L743.98 429.77 L744.48 430.22 L744.98 430.71 L745.48 431.21 L745.98 431.74 L746.48 432.3 L746.98 432.89 L747.48 433.51 L747.98 434.16 L748.48 434.84 L748.98 435.55 L749.48 436.29 L749.99 437.07 L750.49 437.89 L750.99 438.73 L751.49 439.61 L751.99 440.5 L752.49 441.4 L752.99 442.3 L753.49 443.2 L753.99 444.1 L754.49 444.97 L754.99 445.83 L755.49 446.65 L756 447.44 L756.5 448.2 L757 448.94 L757.5 449.65 L758 450.36 L758.5 451.06 L759 451.75 L759 451.75 L759.5 451.12 L760 450.48 L760.5 449.82 L761 449.13 L761.5 448.38 L762 447.58 L762.5 446.71 L763 445.77 L763.5 444.74 L764 443.65 L764.5 442.51 L765 441.34 L765.5 440.15 L766 438.96 L766.5 437.78 L767 436.64 L767.5 435.53 L768 434.49 L768.5 433.5 L769 432.59 L769.5 431.73 L770 430.92 L770.5 430.17 L771 429.46 L771.5 428.81 L772 428.19 L772.5 427.62 L773 427.07 L773.5 426.57 L774 426.09 L774.5 425.64 L775 425.21 L775.5 424.8 L776 424.41 L776.5 424.03 L777 423.68 L777.5 423.34 L778 423.01 L778.5 422.71 L779 422.42 L779.5 422.15 L780 421.89 L780.5 421.65 L781 421.42 L781.5 421.21 L782 421.02 L782.5 420.83 L783 420.67 L783.5 420.52 L784 420.38 L784.5 420.26 L785 420.16 L785.5 420.07 L786 420 L786.5 419.95 L787 419.92 L787.5 419.91 L788 419.92 L788.5 419.95 L789 420 L789.5 420.07 L790 420.17 L790.5 420.29 L791 420.44 L791.5 420.62 L792 420.82 L792.5 421.07 L793 421.34 L793.5 421.65 L794 422 L794.5 422.39 L795 422.81 L795.5 423.27 L796 423.76 L796.5 424.27 L797 424.82 L797.5 425.38 L798 425.96 L798.5 426.56 L799 427.18 L799.5 427.8 L800 428.43 L800.5 429.07 L801 429.71 L801.5 430.36 L802 431.01 L802.5 431.68 L803 432.35 L803.5 433.04 L804 433.74 L804.5 434.45 L805 435.19 L805.5 435.94 L806 436.71 L806.5 437.5 L807 438.31 L807.5 439.13 L808 439.93 L808.5 440.71 L809 441.43 L809.5 442.09 L810 442.67 L810.5 443.15 L811 443.5 L811.5 443.72 L812 443.78 L812.5 443.67 L813 443.39 L813.5 442.96 L814 442.41 L814.5 441.74 L815 440.99 L815.5 440.17 L816 439.31 L816.5 438.42 L817 437.54 L817.5 436.67 L818 435.84 L818.5 435.06 L819 434.33 L819.5 433.64 L820 432.99 L820.5 432.38 L821 431.79 L821.5 431.23 L822 430.7 L822.5 430.19 L823 429.7 L823.5 429.22 L824 428.75 L824.5 428.29 L825 427.83 L825.5 427.39 L826 426.95 L826.5 426.52 L827 426.11 L827.5 425.7 L828 425.31 L828.5 424.94 L829 424.57 L829.5 424.22 L830 423.89 L830.5 423.58 L831 423.28 L831.5 423 L832 422.74 L832.5 422.5 L833 422.28 L833.5 422.08 L834 421.9 L834.5 421.74 L835 421.6 L835.5 421.48 L836 421.39 L836.5 421.31 L837 421.25 L837.5 421.22 L838 421.21 L838.5 421.22 L839 421.25 L839.5 421.3 L840 421.38 L840.5 421.48 L841 421.61 L841.5 421.76 L842 421.93 L842.5 422.13 L843 422.36 L843.5 422.62 L844 422.91 L844.5 423.22 L845 423.57 L845.5 423.94 L846 424.35 L846.5 424.79 L847 425.25 L847.5 425.75 L848 426.27 L848.5 426.82 L849 427.4 L849.5 428 L850 428.63 L850.5 429.28 L851 429.96 L851.5 430.66 L852 431.38 L852.5 432.12 L853 432.88 L853.5 433.66 L854 434.44 L854.5 435.22 L855 435.98 L855.5 436.7 L856 437.39 L856.5 438.02 L857 438.59 L857.5 439.09 L858 439.5 L858.5 439.82 L859 440.03 L859.5 440.11 L860 440.07 L860.5 439.89 L861 439.57 L861.5 439.13 L862 438.58 L862.5 437.93 L863 437.21 L863.5 436.42 L864 435.59 L864.5 434.72 L865 433.84 L865.5 432.96 L866 432.09 L866.5 431.25 L867 430.45 L867.5 429.7 L868 428.98 L868.5 428.31 L869 427.67 L869.5 427.07 L870 426.5 L870.5 425.96 L871 425.46 L871.5 424.99 L872 424.54 L872.5 424.12 L873 423.72 L873.5 423.35 L874 423 L874.5 422.67 L875 422.35 L875.5 422.06 L876 421.78 L876.5 421.51 L877 421.26 L877.5 421.03 L878 420.8 L878.5 420.59 L879 420.39 L879.5 420.19 L880 420.01 L880.5 419.83 L881 419.66 L881.5 419.5 L882 419.34 L882.5 419.19 L883 419.04 L883.5 418.9 L884 418.77 L884.5 418.65 L885 418.55 L885.5 418.45 L886 418.37 L886.5 418.31 L887 418.26 L887.5 418.23 L888 418.21 L888.5 418.22 L889 418.25 L889.5 418.3 L890 418.37 L890.5 418.45 L891 418.54 L891.5 418.65 L892 418.75" fill="none" stroke="#34408a" stroke-width="1.05" stroke-linejoin="round"/>
<path d="M467.1 421.25 L474.9 421.25 L471 429.55 Z" fill="#1818d8"/>
<text x="463.2" y="419.25" font-size="13.5" fill="#18188a" textLength="16.3" lengthAdjust="spacingAndGlyphs" stroke="#18188a" stroke-width="0.45">M1</text>
<path d="M790.6 414.5 L798.4 414.5 L794.5 422.8 Z" fill="#1818d8"/>
<text x="786.7" y="412.5" font-size="13.5" fill="#18188a" textLength="16.3" lengthAdjust="spacingAndGlyphs" stroke="#18188a" stroke-width="0.45">M2</text>
<path d="M854.15 427.7 L867.35 427.7 L860.75 440.7 Z" fill="#1818d8"/>
<text x="849.55" y="424.3" font-size="17" fill="#18188a" textLength="24" lengthAdjust="spacingAndGlyphs" stroke="#18188a" stroke-width="0.5">M3</text>
<text x="869.8" y="359.1" font-size="13" fill="#18188a" textLength="15.7" lengthAdjust="spacingAndGlyphs" stroke="#18188a" stroke-width="0.35">dB</text>
<text x="814.9" y="359.1" font-size="13" fill="#18188a" textLength="49.2" lengthAdjust="spacingAndGlyphs" stroke="#18188a" stroke-width="0.35">-22.739</text>
<text x="749.95" y="359.1" font-size="13" fill="#18188a" textLength="56.75" lengthAdjust="spacingAndGlyphs" stroke="#18188a" stroke-width="0.35">2.41 GHz</text>
<text x="724.35" y="359.1" font-size="13" fill="#18188a" textLength="16.2" lengthAdjust="spacingAndGlyphs" stroke="#18188a" stroke-width="0.35">M1</text>
<text x="869.8" y="373.8" font-size="13" fill="#18188a" textLength="15.7" lengthAdjust="spacingAndGlyphs" stroke="#18188a" stroke-width="0.35">dB</text>
<text x="814.9" y="373.8" font-size="13" fill="#18188a" textLength="49.2" lengthAdjust="spacingAndGlyphs" stroke="#18188a" stroke-width="0.35">-20.318</text>
<text x="749.95" y="373.8" font-size="13" fill="#18188a" textLength="56.75" lengthAdjust="spacingAndGlyphs" stroke="#18188a" stroke-width="0.35">5.17 GHz</text>
<text x="724.35" y="373.8" font-size="13" fill="#18188a" textLength="16.2" lengthAdjust="spacingAndGlyphs" stroke="#18188a" stroke-width="0.35">M2</text>
<text x="869.8" y="388.6" font-size="13" fill="#18188a" textLength="15.7" lengthAdjust="spacingAndGlyphs" stroke="#18188a" stroke-width="0.35">dB</text>
<text x="814.9" y="388.6" font-size="13" fill="#18188a" textLength="49.2" lengthAdjust="spacingAndGlyphs" stroke="#18188a" stroke-width="0.35">-26.882</text>
<text x="749.95" y="388.6" font-size="13" fill="#18188a" textLength="56.75" lengthAdjust="spacingAndGlyphs" stroke="#18188a" stroke-width="0.35">5.74 GHz</text>
<text x="724.35" y="388.6" font-size="13" fill="#18188a" textLength="16.2" lengthAdjust="spacingAndGlyphs" stroke="#18188a" stroke-width="0.35">M3</text>
<circle cx="719.95" cy="383.4" r="1.35" fill="#18188a"/>
</g>
<rect x="451.5" y="321" width="293" height="17.5" rx="4" ry="4" fill="url(#barA)" stroke="#666" stroke-width="1"/>
<path d="M454.5 338.3 H741.5" fill="none" stroke="#1a1a1a" stroke-width="1.4"/>
<path d="M455.5 321 A4 4 0 0 0 451.5 325 V334.5 A4 4 0 0 0 455.5 338.5" fill="none" stroke="#111" stroke-width="1.6"/>
<path d="M455.5 321.5 H484.5 V338 H455.5 A3.5 3.5 0 0 1 452 334.5 V325 A3.5 3.5 0 0 1 455.5 321.5 Z" fill="url(#cell)"/>
<text x="459" y="334.6" font-size="12" fill="#fff" textLength="22" lengthAdjust="spacingAndGlyphs" font-weight="bold">Trc4</text>
<rect x="484.5" y="320.7" width="31.7" height="17.8" fill="#1a12cc"/>
<text x="489" y="334.6" font-size="12.5" fill="#0c0a86" textLength="22.5" lengthAdjust="spacingAndGlyphs">S22</text>
<text x="521.6" y="335.2" font-size="13" fill="#8c8c8c" textLength="43.8" lengthAdjust="spacingAndGlyphs" stroke="#8c8c8c" stroke-width="0.5">dB Mag</text>
<text x="521" y="334.6" font-size="13" fill="#fff" textLength="43.8" lengthAdjust="spacingAndGlyphs" stroke="#fff" stroke-width="0.5">dB Mag</text>
<text x="573.6" y="335.2" font-size="13" fill="#8c8c8c" textLength="42.5" lengthAdjust="spacingAndGlyphs" stroke="#8c8c8c" stroke-width="0.5">10 dB/</text>
<text x="573" y="334.6" font-size="13" fill="#fff" textLength="42.5" lengthAdjust="spacingAndGlyphs" stroke="#fff" stroke-width="0.5">10 dB/</text>
<text x="619.4" y="335.2" font-size="13" fill="#8c8c8c" textLength="66.3" lengthAdjust="spacingAndGlyphs" stroke="#8c8c8c" stroke-width="0.5">Ref -40 dB</text>
<text x="618.8" y="334.6" font-size="13" fill="#fff" textLength="66.3" lengthAdjust="spacingAndGlyphs" stroke="#fff" stroke-width="0.5">Ref -40 dB</text>
<text x="694.3" y="335.2" font-size="13" fill="#8c8c8c" textLength="46.4" lengthAdjust="spacingAndGlyphs" stroke="#8c8c8c" stroke-width="0.5">Cal Offs</text>
<text x="693.7" y="334.6" font-size="13" fill="#fff" textLength="46.4" lengthAdjust="spacingAndGlyphs" stroke="#fff" stroke-width="0.5">Cal Offs</text>
<line x1="568.5" y1="322" x2="568.5" y2="337.3" stroke="#777" stroke-opacity="0.5" stroke-width="1"/>
<line x1="569.5" y1="322" x2="569.5" y2="337.3" stroke="#fff" stroke-opacity="0.3" stroke-width="1"/>
<line x1="688.5" y1="322" x2="688.5" y2="337.3" stroke="#777" stroke-opacity="0.5" stroke-width="1"/>
<line x1="689.5" y1="322" x2="689.5" y2="337.3" stroke="#fff" stroke-opacity="0.3" stroke-width="1"/>
<rect x="862.7" y="321.2" width="23.5" height="17.4" fill="url(#numd)"/>
<rect x="862.7" y="337.6" width="23.5" height="1" fill="#000" fill-opacity="0.12"/>
<text x="874.6" y="334.9" font-size="13" fill="#fff" text-anchor="middle" stroke="#fff" stroke-width="0.4">4</text>
<rect x="451.5" y="610.2" width="435.2" height="18.2" rx="4" ry="4" fill="url(#bar)" stroke="#666" stroke-width="1"/>
<path d="M454.5 628.2 H883.7" fill="none" stroke="#1a1a1a" stroke-width="1.4"/>
<path d="M455.5 610.2 A4 4 0 0 0 451.5 614.2 V624.4 A4 4 0 0 0 455.5 628.4" fill="none" stroke="#111" stroke-width="1.6"/>
<path d="M455.5 610.7 H483.9 V627.9 H455.5 A3.5 3.5 0 0 1 452 624.4 V614.2 A3.5 3.5 0 0 1 455.5 610.7 Z" fill="url(#cell)"/>
<text x="457.3" y="624.9" font-size="12" fill="#fff" textLength="23.8" lengthAdjust="spacingAndGlyphs" font-weight="bold">Ch1</text>
<text x="489" y="624.9" font-size="13" fill="#0a0a0a" textLength="30" lengthAdjust="spacingAndGlyphs" stroke="#0a0a0a" stroke-width="0.35">Start</text>
<text x="526.8" y="624.9" font-size="13" fill="#0a0a0a" textLength="48.2" lengthAdjust="spacingAndGlyphs" stroke="#0a0a0a" stroke-width="0.35">2.2 GHz</text>
<text x="590.5" y="624.9" font-size="13" fill="#0a0a0a" textLength="20.4" lengthAdjust="spacingAndGlyphs" stroke="#0a0a0a" stroke-width="0.35">Pwr</text>
<text x="618.5" y="624.9" font-size="13" fill="#0a0a0a" textLength="53.2" lengthAdjust="spacingAndGlyphs" stroke="#0a0a0a" stroke-width="0.35">-10 dBm</text>
<text x="680" y="624.9" font-size="13" fill="#0a0a0a" textLength="17" lengthAdjust="spacingAndGlyphs" stroke="#0a0a0a" stroke-width="0.35">Bw</text>
<text x="705.3" y="624.9" font-size="13" fill="#0a0a0a" textLength="40.7" lengthAdjust="spacingAndGlyphs" stroke="#0a0a0a" stroke-width="0.35">10 kHz</text>
<text x="809.9" y="624.9" font-size="13" fill="#0a0a0a" textLength="27.6" lengthAdjust="spacingAndGlyphs" stroke="#0a0a0a" stroke-width="0.35">Stop</text>
<text x="846.3" y="624.9" font-size="13" fill="#0a0a0a" textLength="35.6" lengthAdjust="spacingAndGlyphs" stroke="#0a0a0a" stroke-width="0.35">6 GHz</text>
<line x1="483.9" y1="611.2" x2="483.9" y2="627.2" stroke="#777" stroke-opacity="0.5" stroke-width="1"/>
<line x1="484.9" y1="611.2" x2="484.9" y2="627.2" stroke="#fff" stroke-opacity="0.3" stroke-width="1"/>
<line x1="521.8" y1="611.2" x2="521.8" y2="627.2" stroke="#777" stroke-opacity="0.5" stroke-width="1"/>
<line x1="522.8" y1="611.2" x2="522.8" y2="627.2" stroke="#fff" stroke-opacity="0.3" stroke-width="1"/>
<line x1="614.3" y1="611.2" x2="614.3" y2="627.2" stroke="#777" stroke-opacity="0.5" stroke-width="1"/>
<line x1="615.3" y1="611.2" x2="615.3" y2="627.2" stroke="#fff" stroke-opacity="0.3" stroke-width="1"/>
<line x1="675.9" y1="611.2" x2="675.9" y2="627.2" stroke="#777" stroke-opacity="0.5" stroke-width="1"/>
<line x1="676.9" y1="611.2" x2="676.9" y2="627.2" stroke="#fff" stroke-opacity="0.3" stroke-width="1"/>
<line x1="700.5" y1="611.2" x2="700.5" y2="627.2" stroke="#777" stroke-opacity="0.5" stroke-width="1"/>
<line x1="701.5" y1="611.2" x2="701.5" y2="627.2" stroke="#fff" stroke-opacity="0.3" stroke-width="1"/>
<line x1="804.8" y1="611.2" x2="804.8" y2="627.2" stroke="#777" stroke-opacity="0.5" stroke-width="1"/>
<line x1="805.8" y1="611.2" x2="805.8" y2="627.2" stroke="#fff" stroke-opacity="0.3" stroke-width="1"/>
<line x1="841.5" y1="611.2" x2="841.5" y2="627.2" stroke="#777" stroke-opacity="0.5" stroke-width="1"/>
<line x1="842.5" y1="611.2" x2="842.5" y2="627.2" stroke="#fff" stroke-opacity="0.3" stroke-width="1"/>
</svg>
</body></html>
